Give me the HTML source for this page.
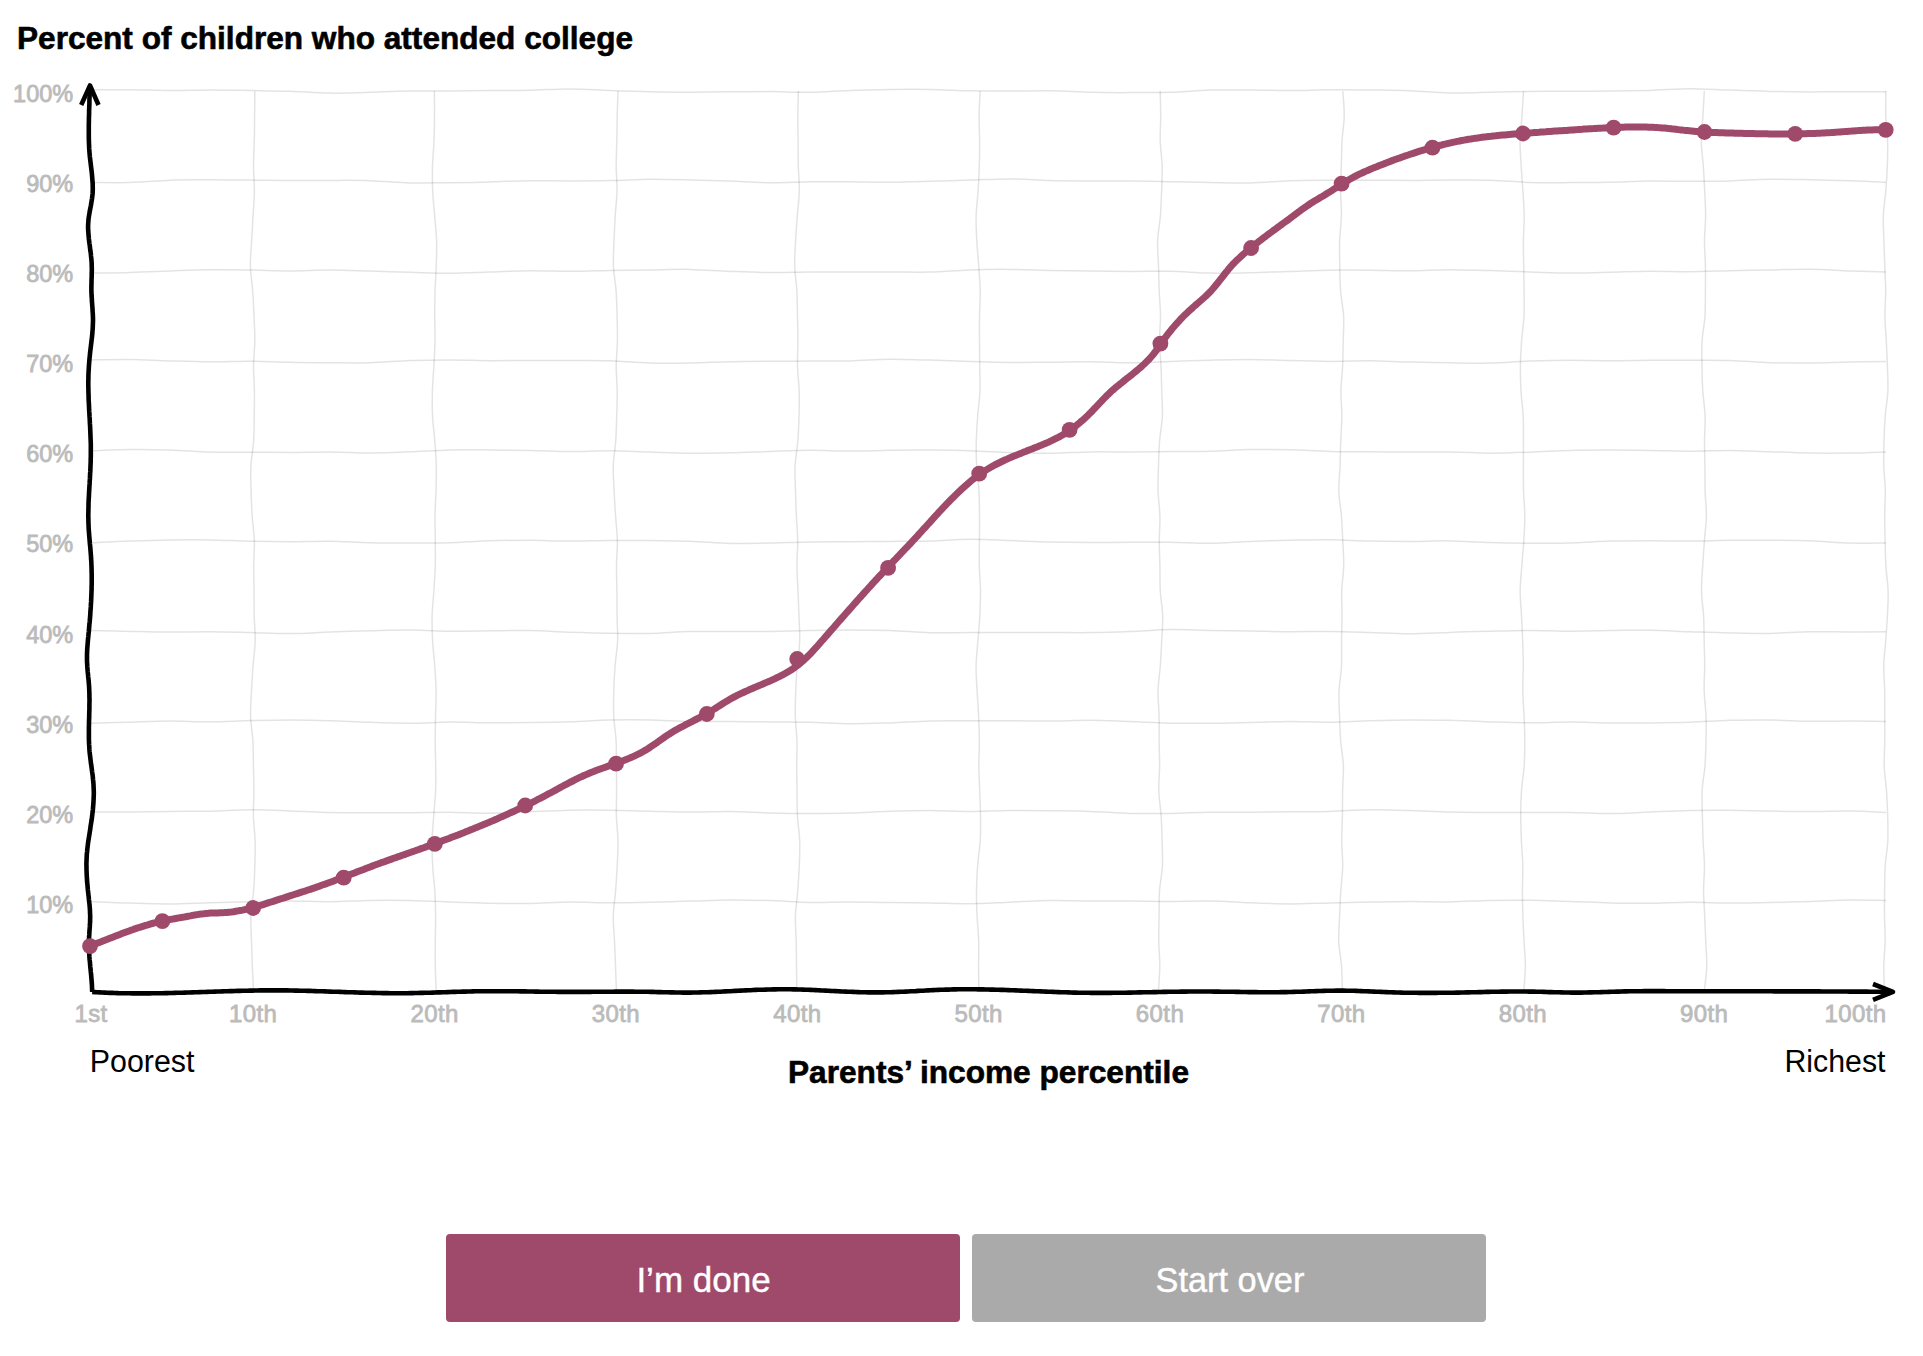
<!DOCTYPE html>
<html><head><meta charset="utf-8"><title>You draw it</title>
<style>
html,body{margin:0;padding:0;background:#fff;width:1923px;height:1356px;overflow:hidden}
svg{display:block;font-family:"Liberation Sans",sans-serif}
</style></head><body>
<svg width="1923" height="1356" viewBox="0 0 1923 1356">
<g fill="none" stroke="rgba(0,0,0,0.11)" stroke-width="1.5"><path d="M90.0,89.7 C96.7,89.7 116.7,89.6 130.0,89.7 C143.3,89.8 156.7,90.5 170.0,90.5 C183.3,90.6 196.7,90.0 210.0,90.0 C223.3,90.0 236.7,90.3 250.0,90.5 C263.3,90.7 276.7,90.8 290.0,91.2 C303.3,91.7 316.7,92.9 330.0,93.1 C343.3,93.3 356.7,92.6 370.0,92.3 C383.3,91.9 396.7,91.3 410.0,91.1 C423.3,90.8 436.7,91.0 450.0,90.9 C463.3,90.8 476.7,90.7 490.0,90.6 C503.3,90.5 516.7,90.5 530.0,90.2 C543.3,89.9 556.7,88.8 570.0,88.9 C583.3,88.9 596.7,90.0 610.0,90.5 C623.3,91.0 636.7,91.5 650.0,91.8 C663.3,92.1 676.7,92.2 690.0,92.2 C703.3,92.1 716.7,91.8 730.0,91.8 C743.3,91.7 756.7,91.6 770.0,91.6 C783.3,91.7 796.7,92.5 810.0,92.3 C823.3,92.1 836.7,90.9 850.0,90.4 C863.3,89.9 876.7,89.6 890.0,89.4 C903.3,89.3 916.7,89.2 930.0,89.4 C943.3,89.6 956.7,90.5 970.0,90.8 C983.3,91.0 996.7,91.1 1010.0,91.1 C1023.3,91.1 1036.7,90.6 1050.0,90.8 C1063.3,90.9 1076.7,92.0 1090.0,92.3 C1103.3,92.6 1116.7,92.7 1130.0,92.6 C1143.3,92.6 1156.7,92.6 1170.0,92.2 C1183.3,91.8 1196.7,90.5 1210.0,90.1 C1223.3,89.8 1236.7,89.9 1250.0,90.0 C1263.3,90.1 1276.7,90.6 1290.0,90.5 C1303.3,90.5 1316.7,89.9 1330.0,89.8 C1343.3,89.7 1356.7,89.9 1370.0,90.0 C1383.3,90.2 1396.7,90.3 1410.0,90.8 C1423.3,91.3 1436.7,92.6 1450.0,92.9 C1463.3,93.2 1476.7,92.6 1490.0,92.3 C1503.3,92.1 1516.7,91.6 1530.0,91.4 C1543.3,91.2 1556.7,91.4 1570.0,91.3 C1583.3,91.3 1596.7,91.1 1610.0,91.0 C1623.3,90.8 1636.7,90.7 1650.0,90.4 C1663.3,90.0 1676.7,88.8 1690.0,88.7 C1703.3,88.7 1716.7,89.7 1730.0,90.1 C1743.3,90.6 1756.7,91.1 1770.0,91.4 C1783.3,91.7 1796.7,91.8 1810.0,91.9 C1823.3,91.9 1837.3,91.7 1850.0,91.7 C1862.7,91.7 1880.0,91.8 1886.0,91.8"/><path d="M90.0,182.5 C96.7,182.5 116.7,183.0 130.0,182.6 C143.3,182.3 156.7,180.7 170.0,180.2 C183.3,179.8 196.7,179.9 210.0,179.8 C223.3,179.8 236.7,180.0 250.0,180.1 C263.3,180.2 276.7,180.5 290.0,180.5 C303.3,180.6 316.7,180.3 330.0,180.4 C343.3,180.4 356.7,180.2 370.0,180.7 C383.3,181.1 396.7,182.5 410.0,182.9 C423.3,183.2 436.7,182.8 450.0,182.7 C463.3,182.5 476.7,182.3 490.0,181.9 C503.3,181.6 516.7,180.8 530.0,180.7 C543.3,180.5 556.7,180.9 570.0,180.9 C583.3,180.9 596.7,180.9 610.0,180.6 C623.3,180.4 636.7,179.3 650.0,179.2 C663.3,179.1 676.7,179.6 690.0,180.0 C703.3,180.3 716.7,180.7 730.0,181.1 C743.3,181.6 756.7,182.5 770.0,182.7 C783.3,182.8 796.7,182.0 810.0,181.8 C823.3,181.7 836.7,181.7 850.0,181.7 C863.3,181.8 876.7,182.4 890.0,182.3 C903.3,182.2 916.7,181.7 930.0,181.3 C943.3,180.9 956.7,180.5 970.0,180.1 C983.3,179.7 996.7,178.9 1010.0,178.9 C1023.3,179.0 1036.7,180.2 1050.0,180.6 C1063.3,181.0 1076.7,181.0 1090.0,181.1 C1103.3,181.1 1116.7,181.0 1130.0,181.1 C1143.3,181.2 1156.7,181.5 1170.0,181.7 C1183.3,181.9 1196.7,182.3 1210.0,182.6 C1223.3,182.8 1236.7,183.3 1250.0,183.0 C1263.3,182.7 1276.7,181.2 1290.0,180.7 C1303.3,180.2 1316.7,180.3 1330.0,180.2 C1343.3,180.1 1356.7,180.2 1370.0,180.2 C1383.3,180.2 1396.7,180.4 1410.0,180.4 C1423.3,180.4 1436.7,180.0 1450.0,180.0 C1463.3,180.0 1476.7,179.8 1490.0,180.2 C1503.3,180.6 1516.7,182.1 1530.0,182.5 C1543.3,182.9 1556.7,182.7 1570.0,182.6 C1583.3,182.6 1596.7,182.4 1610.0,182.2 C1623.3,181.9 1636.7,181.2 1650.0,181.1 C1663.3,180.9 1676.7,181.4 1690.0,181.3 C1703.3,181.3 1716.7,181.3 1730.0,180.9 C1743.3,180.5 1756.7,179.4 1770.0,179.2 C1783.3,179.0 1796.7,179.4 1810.0,179.7 C1823.3,179.9 1837.3,180.3 1850.0,180.7 C1862.7,181.1 1880.0,182.0 1886.0,182.3"/><path d="M90.0,273.0 C96.7,272.9 116.7,272.8 130.0,272.4 C143.3,272.1 156.7,271.4 170.0,270.9 C183.3,270.5 196.7,270.0 210.0,269.8 C223.3,269.7 236.7,269.8 250.0,270.0 C263.3,270.2 276.7,270.9 290.0,270.9 C303.3,270.9 316.7,270.0 330.0,270.0 C343.3,270.1 356.7,270.7 370.0,271.1 C383.3,271.5 396.7,271.9 410.0,272.3 C423.3,272.6 436.7,273.2 450.0,273.2 C463.3,273.2 476.7,272.4 490.0,272.0 C503.3,271.6 516.7,270.9 530.0,270.8 C543.3,270.6 556.7,271.4 570.0,271.3 C583.3,271.2 596.7,270.7 610.0,270.4 C623.3,270.2 636.7,270.1 650.0,269.9 C663.3,269.7 676.7,269.2 690.0,269.4 C703.3,269.7 716.7,270.9 730.0,271.4 C743.3,271.9 756.7,272.5 770.0,272.5 C783.3,272.6 796.7,272.0 810.0,271.9 C823.3,271.9 836.7,272.1 850.0,272.1 C863.3,272.1 876.7,272.0 890.0,272.0 C903.3,272.0 916.7,272.4 930.0,272.1 C943.3,271.7 956.7,270.3 970.0,269.9 C983.3,269.4 996.7,269.3 1010.0,269.4 C1023.3,269.4 1036.7,270.1 1050.0,270.4 C1063.3,270.6 1076.7,270.9 1090.0,271.1 C1103.3,271.2 1116.7,271.4 1130.0,271.4 C1143.3,271.5 1156.7,271.0 1170.0,271.2 C1183.3,271.5 1196.7,272.8 1210.0,273.1 C1223.3,273.3 1236.7,273.0 1250.0,272.7 C1263.3,272.4 1276.7,271.8 1290.0,271.4 C1303.3,271.0 1316.7,270.4 1330.0,270.2 C1343.3,270.0 1356.7,270.1 1370.0,270.2 C1383.3,270.3 1396.7,270.9 1410.0,270.8 C1423.3,270.7 1436.7,269.7 1450.0,269.7 C1463.3,269.7 1476.7,270.3 1490.0,270.6 C1503.3,271.0 1516.7,271.5 1530.0,271.9 C1543.3,272.3 1556.7,273.1 1570.0,273.1 C1583.3,273.2 1596.7,272.6 1610.0,272.2 C1623.3,271.9 1636.7,271.2 1650.0,271.2 C1663.3,271.1 1676.7,271.8 1690.0,271.7 C1703.3,271.6 1716.7,271.0 1730.0,270.7 C1743.3,270.4 1756.7,270.2 1770.0,269.9 C1783.3,269.7 1796.7,269.0 1810.0,269.2 C1823.3,269.3 1837.3,270.5 1850.0,271.0 C1862.7,271.4 1880.0,271.8 1886.0,272.0"/><path d="M90.0,359.9 C96.7,359.8 116.7,359.3 130.0,359.4 C143.3,359.6 156.7,360.5 170.0,360.9 C183.3,361.3 196.7,361.8 210.0,361.8 C223.3,361.9 236.7,361.1 250.0,361.2 C263.3,361.3 276.7,362.1 290.0,362.3 C303.3,362.6 316.7,362.7 330.0,362.8 C343.3,362.8 356.7,363.1 370.0,362.7 C383.3,362.3 396.7,361.1 410.0,360.6 C423.3,360.1 436.7,359.9 450.0,359.9 C463.3,359.9 476.7,360.6 490.0,360.7 C503.3,360.8 516.7,360.4 530.0,360.4 C543.3,360.4 556.7,360.5 570.0,360.6 C583.3,360.6 596.7,360.4 610.0,360.8 C623.3,361.3 636.7,362.7 650.0,363.0 C663.3,363.4 676.7,363.2 690.0,363.0 C703.3,362.8 716.7,362.1 730.0,361.8 C743.3,361.5 756.7,361.4 770.0,361.3 C783.3,361.2 796.7,361.1 810.0,361.1 C823.3,361.0 836.7,361.2 850.0,360.9 C863.3,360.6 876.7,359.4 890.0,359.2 C903.3,359.1 916.7,359.8 930.0,360.1 C943.3,360.5 956.7,361.2 970.0,361.6 C983.3,362.0 996.7,362.4 1010.0,362.5 C1023.3,362.6 1036.7,362.3 1050.0,362.2 C1063.3,362.1 1076.7,361.7 1090.0,361.8 C1103.3,361.9 1116.7,362.9 1130.0,362.8 C1143.3,362.8 1156.7,361.9 1170.0,361.4 C1183.3,361.0 1196.7,360.5 1210.0,360.2 C1223.3,359.8 1236.7,359.3 1250.0,359.4 C1263.3,359.5 1276.7,360.3 1290.0,360.6 C1303.3,361.0 1316.7,361.4 1330.0,361.4 C1343.3,361.4 1356.7,360.7 1370.0,360.8 C1383.3,361.0 1396.7,361.8 1410.0,362.1 C1423.3,362.4 1436.7,362.7 1450.0,362.8 C1463.3,363.0 1476.7,363.3 1490.0,363.1 C1503.3,362.8 1516.7,361.5 1530.0,361.0 C1543.3,360.6 1556.7,360.3 1570.0,360.3 C1583.3,360.3 1596.7,360.8 1610.0,360.8 C1623.3,360.8 1636.7,360.4 1650.0,360.3 C1663.3,360.2 1676.7,360.2 1690.0,360.2 C1703.3,360.2 1716.7,360.0 1730.0,360.4 C1743.3,360.8 1756.7,362.3 1770.0,362.7 C1783.3,363.1 1796.7,363.0 1810.0,362.9 C1823.3,362.8 1837.3,362.2 1850.0,362.0 C1862.7,361.8 1880.0,361.7 1886.0,361.6"/><path d="M90.0,450.9 C96.7,450.7 116.7,449.7 130.0,449.5 C143.3,449.4 156.7,449.5 170.0,449.9 C183.3,450.3 196.7,451.6 210.0,452.0 C223.3,452.3 236.7,452.1 250.0,452.2 C263.3,452.3 276.7,452.4 290.0,452.4 C303.3,452.3 316.7,451.9 330.0,451.9 C343.3,452.0 356.7,452.9 370.0,452.9 C383.3,452.9 396.7,452.3 410.0,451.8 C423.3,451.3 436.7,450.3 450.0,450.0 C463.3,449.6 476.7,449.8 490.0,449.9 C503.3,450.0 516.7,450.2 530.0,450.5 C543.3,450.7 556.7,451.5 570.0,451.6 C583.3,451.6 596.7,450.8 610.0,450.8 C623.3,450.9 636.7,451.7 650.0,452.1 C663.3,452.5 676.7,453.1 690.0,453.2 C703.3,453.3 716.7,453.1 730.0,452.8 C743.3,452.6 756.7,451.9 770.0,451.5 C783.3,451.0 796.7,450.3 810.0,450.2 C823.3,450.2 836.7,451.1 850.0,451.1 C863.3,451.1 876.7,450.5 890.0,450.3 C903.3,450.1 916.7,450.0 930.0,450.1 C943.3,450.2 956.7,450.3 970.0,450.7 C983.3,451.1 996.7,452.0 1010.0,452.5 C1023.3,452.9 1036.7,453.4 1050.0,453.3 C1063.3,453.2 1076.7,452.1 1090.0,451.9 C1103.3,451.6 1116.7,452.1 1130.0,452.0 C1143.3,452.0 1156.7,451.8 1170.0,451.6 C1183.3,451.5 1196.7,451.6 1210.0,451.2 C1223.3,450.9 1236.7,449.8 1250.0,449.6 C1263.3,449.3 1276.7,449.3 1290.0,449.7 C1303.3,450.0 1316.7,451.2 1330.0,451.5 C1343.3,451.9 1356.7,451.7 1370.0,451.8 C1383.3,451.9 1396.7,452.1 1410.0,452.1 C1423.3,452.2 1436.7,451.8 1450.0,452.0 C1463.3,452.1 1476.7,453.1 1490.0,453.2 C1503.3,453.2 1516.7,452.7 1530.0,452.2 C1543.3,451.8 1556.7,450.7 1570.0,450.4 C1583.3,450.0 1596.7,450.0 1610.0,450.0 C1623.3,450.0 1636.7,450.2 1650.0,450.4 C1663.3,450.5 1676.7,451.2 1690.0,451.2 C1703.3,451.2 1716.7,450.3 1730.0,450.4 C1743.3,450.5 1756.7,451.3 1770.0,451.7 C1783.3,452.2 1796.7,452.8 1810.0,453.1 C1823.3,453.3 1837.3,453.2 1850.0,453.1 C1862.7,452.9 1880.0,452.1 1886.0,451.9"/><path d="M90.0,542.8 C96.7,542.5 116.7,541.4 130.0,541.0 C143.3,540.5 156.7,540.1 170.0,539.9 C183.3,539.7 196.7,539.6 210.0,539.9 C223.3,540.1 236.7,540.9 250.0,541.2 C263.3,541.6 276.7,541.8 290.0,541.8 C303.3,541.8 316.7,541.1 330.0,541.3 C343.3,541.5 356.7,542.5 370.0,542.8 C383.3,543.1 396.7,543.1 410.0,543.1 C423.3,543.1 436.7,543.1 450.0,542.7 C463.3,542.3 476.7,541.0 490.0,540.7 C503.3,540.3 516.7,540.3 530.0,540.3 C543.3,540.4 556.7,541.0 570.0,541.0 C583.3,541.0 596.7,540.4 610.0,540.4 C623.3,540.3 636.7,540.5 650.0,540.6 C663.3,540.8 676.7,540.8 690.0,541.3 C703.3,541.7 716.7,543.1 730.0,543.4 C743.3,543.7 756.7,543.2 770.0,543.0 C783.3,542.7 796.7,542.1 810.0,541.9 C823.3,541.7 836.7,541.8 850.0,541.7 C863.3,541.6 876.7,541.5 890.0,541.4 C903.3,541.3 916.7,541.3 930.0,540.9 C943.3,540.6 956.7,539.3 970.0,539.3 C983.3,539.2 996.7,540.1 1010.0,540.6 C1023.3,541.0 1036.7,541.6 1050.0,541.9 C1063.3,542.2 1076.7,542.4 1090.0,542.5 C1103.3,542.5 1116.7,542.3 1130.0,542.2 C1143.3,542.2 1156.7,542.1 1170.0,542.2 C1183.3,542.4 1196.7,543.3 1210.0,543.2 C1223.3,543.0 1236.7,541.9 1250.0,541.4 C1263.3,540.9 1276.7,540.5 1290.0,540.2 C1303.3,540.0 1316.7,539.7 1330.0,539.8 C1343.3,540.0 1356.7,540.7 1370.0,541.0 C1383.3,541.2 1396.7,541.4 1410.0,541.4 C1423.3,541.4 1436.7,540.7 1450.0,540.9 C1463.3,541.1 1476.7,542.2 1490.0,542.5 C1503.3,542.9 1516.7,543.1 1530.0,543.2 C1543.3,543.2 1556.7,543.4 1570.0,543.0 C1583.3,542.7 1596.7,541.5 1610.0,541.1 C1623.3,540.7 1636.7,540.7 1650.0,540.7 C1663.3,540.7 1676.7,541.2 1690.0,541.1 C1703.3,541.1 1716.7,540.4 1730.0,540.3 C1743.3,540.1 1756.7,540.2 1770.0,540.3 C1783.3,540.3 1796.7,540.3 1810.0,540.8 C1823.3,541.3 1837.3,542.7 1850.0,543.1 C1862.7,543.4 1880.0,542.9 1886.0,542.9"/><path d="M90.0,630.5 C96.7,630.7 116.7,631.1 130.0,631.4 C143.3,631.7 156.7,632.1 170.0,632.1 C183.3,632.2 196.7,631.7 210.0,631.8 C223.3,631.9 236.7,632.3 250.0,632.6 C263.3,632.9 276.7,633.7 290.0,633.6 C303.3,633.5 316.7,632.4 330.0,631.9 C343.3,631.5 356.7,631.1 370.0,630.8 C383.3,630.5 396.7,630.0 410.0,630.1 C423.3,630.1 436.7,631.0 450.0,631.2 C463.3,631.3 476.7,630.9 490.0,630.8 C503.3,630.7 516.7,630.4 530.0,630.6 C543.3,630.8 556.7,631.8 570.0,632.2 C583.3,632.6 596.7,633.0 610.0,633.2 C623.3,633.4 636.7,633.6 650.0,633.4 C663.3,633.1 676.7,631.8 690.0,631.5 C703.3,631.2 716.7,631.6 730.0,631.6 C743.3,631.6 756.7,631.6 770.0,631.4 C783.3,631.2 796.7,630.7 810.0,630.5 C823.3,630.2 836.7,629.9 850.0,629.9 C863.3,629.9 876.7,630.0 890.0,630.5 C903.3,631.0 916.7,632.4 930.0,632.8 C943.3,633.1 956.7,632.5 970.0,632.5 C983.3,632.4 996.7,632.4 1010.0,632.4 C1023.3,632.4 1036.7,632.4 1050.0,632.5 C1063.3,632.5 1076.7,632.8 1090.0,632.6 C1103.3,632.5 1116.7,632.1 1130.0,631.6 C1143.3,631.1 1156.7,629.8 1170.0,629.6 C1183.3,629.4 1196.7,630.2 1210.0,630.4 C1223.3,630.6 1236.7,630.8 1250.0,631.0 C1263.3,631.2 1276.7,631.7 1290.0,631.7 C1303.3,631.8 1316.7,631.3 1330.0,631.5 C1343.3,631.6 1356.7,632.1 1370.0,632.5 C1383.3,632.9 1396.7,633.8 1410.0,633.7 C1423.3,633.7 1436.7,632.8 1450.0,632.4 C1463.3,631.9 1476.7,631.6 1490.0,631.3 C1503.3,630.9 1516.7,630.4 1530.0,630.4 C1543.3,630.4 1556.7,631.2 1570.0,631.2 C1583.3,631.2 1596.7,630.7 1610.0,630.5 C1623.3,630.4 1636.7,630.0 1650.0,630.2 C1663.3,630.4 1676.7,631.3 1690.0,631.8 C1703.3,632.2 1716.7,632.7 1730.0,632.9 C1743.3,633.2 1756.7,633.6 1770.0,633.4 C1783.3,633.2 1796.7,632.0 1810.0,631.8 C1823.3,631.5 1837.3,632.0 1850.0,632.0 C1862.7,632.0 1880.0,631.8 1886.0,631.8"/><path d="M90.0,723.2 C96.7,723.0 116.7,722.5 130.0,722.2 C143.3,721.8 156.7,721.2 170.0,721.1 C183.3,721.1 196.7,721.9 210.0,721.8 C223.3,721.8 236.7,720.9 250.0,720.6 C263.3,720.3 276.7,720.0 290.0,720.0 C303.3,720.0 316.7,720.3 330.0,720.7 C343.3,721.1 356.7,721.9 370.0,722.3 C383.3,722.8 396.7,723.2 410.0,723.2 C423.3,723.2 436.7,722.2 450.0,722.1 C463.3,722.0 476.7,722.7 490.0,722.8 C503.3,722.8 516.7,722.7 530.0,722.6 C543.3,722.4 556.7,722.2 570.0,721.8 C583.3,721.4 596.7,720.3 610.0,720.0 C623.3,719.7 636.7,719.7 650.0,719.9 C663.3,720.2 676.7,721.3 690.0,721.5 C703.3,721.8 716.7,721.4 730.0,721.5 C743.3,721.5 756.7,721.8 770.0,722.0 C783.3,722.1 796.7,722.0 810.0,722.3 C823.3,722.6 836.7,723.6 850.0,723.7 C863.3,723.8 876.7,723.3 890.0,722.9 C903.3,722.4 916.7,721.4 930.0,721.0 C943.3,720.7 956.7,720.9 970.0,720.8 C983.3,720.8 996.7,720.7 1010.0,720.8 C1023.3,720.8 1036.7,721.2 1050.0,721.1 C1063.3,721.0 1076.7,720.1 1090.0,720.2 C1103.3,720.3 1116.7,721.1 1130.0,721.6 C1143.3,722.1 1156.7,722.9 1170.0,723.2 C1183.3,723.5 1196.7,723.3 1210.0,723.2 C1223.3,723.1 1236.7,722.7 1250.0,722.4 C1263.3,722.2 1276.7,721.6 1290.0,721.5 C1303.3,721.5 1316.7,722.4 1330.0,722.2 C1343.3,722.1 1356.7,721.1 1370.0,720.8 C1383.3,720.4 1396.7,720.0 1410.0,719.9 C1423.3,719.9 1436.7,720.0 1450.0,720.3 C1463.3,720.7 1476.7,721.5 1490.0,721.9 C1503.3,722.3 1516.7,722.8 1530.0,722.8 C1543.3,722.8 1556.7,722.0 1570.0,722.0 C1583.3,722.0 1596.7,722.8 1610.0,722.9 C1623.3,723.1 1636.7,723.0 1650.0,722.9 C1663.3,722.8 1676.7,722.7 1690.0,722.3 C1703.3,721.8 1716.7,720.7 1730.0,720.3 C1743.3,720.0 1756.7,719.8 1770.0,720.0 C1783.3,720.1 1796.7,721.1 1810.0,721.3 C1823.3,721.5 1837.3,721.1 1850.0,721.1 C1862.7,721.1 1880.0,721.4 1886.0,721.5"/><path d="M90.0,811.9 C96.7,811.9 116.7,811.9 130.0,811.9 C143.3,811.8 156.7,811.5 170.0,811.4 C183.3,811.3 196.7,811.4 210.0,811.2 C223.3,810.9 236.7,809.8 250.0,809.7 C263.3,809.7 276.7,810.4 290.0,810.9 C303.3,811.3 316.7,812.2 330.0,812.6 C343.3,812.9 356.7,812.8 370.0,812.8 C383.3,812.8 396.7,812.8 410.0,812.7 C423.3,812.6 436.7,812.3 450.0,812.3 C463.3,812.4 476.7,813.4 490.0,813.2 C503.3,813.1 516.7,812.1 530.0,811.6 C543.3,811.1 556.7,810.5 570.0,810.2 C583.3,810.0 596.7,810.1 610.0,810.2 C623.3,810.4 636.7,810.9 650.0,811.2 C663.3,811.5 676.7,812.0 690.0,812.0 C703.3,812.1 716.7,811.2 730.0,811.4 C743.3,811.5 756.7,812.6 770.0,812.9 C783.3,813.3 796.7,813.5 810.0,813.5 C823.3,813.5 836.7,813.5 850.0,813.1 C863.3,812.7 876.7,811.7 890.0,811.3 C903.3,810.9 916.7,810.6 930.0,810.6 C943.3,810.7 956.7,811.5 970.0,811.5 C983.3,811.4 996.7,810.7 1010.0,810.6 C1023.3,810.5 1036.7,810.6 1050.0,810.7 C1063.3,810.9 1076.7,810.9 1090.0,811.4 C1103.3,811.8 1116.7,813.1 1130.0,813.4 C1143.3,813.7 1156.7,813.6 1170.0,813.4 C1183.3,813.2 1196.7,812.4 1210.0,812.2 C1223.3,812.0 1236.7,812.3 1250.0,812.3 C1263.3,812.2 1276.7,812.0 1290.0,811.8 C1303.3,811.7 1316.7,811.7 1330.0,811.4 C1343.3,811.0 1356.7,809.8 1370.0,809.7 C1383.3,809.5 1396.7,810.1 1410.0,810.6 C1423.3,811.0 1436.7,811.8 1450.0,812.1 C1463.3,812.4 1476.7,812.4 1490.0,812.5 C1503.3,812.5 1516.7,812.6 1530.0,812.6 C1543.3,812.6 1556.7,812.3 1570.0,812.5 C1583.3,812.6 1596.7,813.7 1610.0,813.6 C1623.3,813.5 1636.7,812.5 1650.0,812.0 C1663.3,811.5 1676.7,810.9 1690.0,810.6 C1703.3,810.3 1716.7,810.2 1730.0,810.3 C1743.3,810.4 1756.7,810.8 1770.0,811.0 C1783.3,811.3 1796.7,811.6 1810.0,811.6 C1823.3,811.6 1837.3,810.8 1850.0,811.0 C1862.7,811.1 1880.0,812.2 1886.0,812.5"/><path d="M90.0,901.4 C96.7,901.7 116.7,902.7 130.0,903.1 C143.3,903.5 156.7,904.0 170.0,903.9 C183.3,903.9 196.7,903.1 210.0,902.7 C223.3,902.4 236.7,902.0 250.0,901.7 C263.3,901.4 276.7,900.9 290.0,901.0 C303.3,901.0 316.7,901.8 330.0,901.7 C343.3,901.6 356.7,900.6 370.0,900.4 C383.3,900.3 396.7,900.3 410.0,900.5 C423.3,900.8 436.7,901.4 450.0,901.9 C463.3,902.3 476.7,903.0 490.0,903.3 C503.3,903.5 516.7,903.6 530.0,903.4 C543.3,903.2 556.7,902.2 570.0,902.1 C583.3,902.0 596.7,902.8 610.0,902.8 C623.3,902.8 636.7,902.4 650.0,902.2 C663.3,901.9 676.7,901.5 690.0,901.1 C703.3,900.7 716.7,900.0 730.0,899.9 C743.3,899.8 756.7,900.2 770.0,900.6 C783.3,901.0 796.7,902.2 810.0,902.4 C823.3,902.6 836.7,902.0 850.0,902.1 C863.3,902.1 876.7,902.4 890.0,902.6 C903.3,902.7 916.7,902.7 930.0,902.9 C943.3,903.1 956.7,903.8 970.0,903.7 C983.3,903.6 996.7,902.7 1010.0,902.2 C1023.3,901.6 1036.7,900.7 1050.0,900.5 C1063.3,900.2 1076.7,900.8 1090.0,900.9 C1103.3,901.0 1116.7,901.0 1130.0,901.0 C1143.3,901.1 1156.7,901.4 1170.0,901.4 C1183.3,901.4 1196.7,900.7 1210.0,901.0 C1223.3,901.2 1236.7,902.3 1250.0,902.8 C1263.3,903.3 1276.7,903.8 1290.0,903.9 C1303.3,903.9 1316.7,903.3 1330.0,903.0 C1343.3,902.7 1356.7,902.3 1370.0,902.1 C1383.3,901.8 1396.7,901.4 1410.0,901.4 C1423.3,901.3 1436.7,902.1 1450.0,901.9 C1463.3,901.8 1476.7,900.7 1490.0,900.4 C1503.3,900.1 1516.7,900.1 1530.0,900.2 C1543.3,900.4 1556.7,901.0 1570.0,901.4 C1583.3,901.8 1596.7,902.6 1610.0,902.9 C1623.3,903.2 1636.7,903.4 1650.0,903.3 C1663.3,903.2 1676.7,902.2 1690.0,902.2 C1703.3,902.2 1716.7,903.0 1730.0,903.1 C1743.3,903.2 1756.7,902.9 1770.0,902.6 C1783.3,902.3 1796.7,901.9 1810.0,901.5 C1823.3,901.1 1837.3,900.2 1850.0,900.0 C1862.7,899.8 1880.0,900.4 1886.0,900.4"/><path d="M254.8,91.0 C254.8,95.2 254.7,107.7 254.6,116.0 C254.5,124.3 254.5,132.7 254.3,141.0 C254.1,149.3 253.4,157.7 253.5,166.0 C253.5,174.3 254.5,182.7 254.4,191.0 C254.4,199.3 253.5,207.7 253.0,216.0 C252.6,224.3 252.1,232.7 251.6,241.0 C251.2,249.3 250.2,257.7 250.4,266.0 C250.6,274.3 252.1,282.7 252.7,291.0 C253.3,299.3 253.7,307.7 254.0,316.0 C254.4,324.3 254.9,332.7 254.8,341.0 C254.7,349.3 253.6,357.7 253.5,366.0 C253.5,374.3 254.3,382.7 254.4,391.0 C254.5,399.3 254.4,407.7 254.2,416.0 C254.1,424.3 254.2,432.7 253.6,441.0 C253.1,449.3 251.3,457.7 250.9,466.0 C250.5,474.3 250.8,482.7 251.1,491.0 C251.3,499.3 251.6,507.7 252.2,516.0 C252.7,524.3 254.1,532.7 254.4,541.0 C254.6,549.3 253.8,557.7 253.7,566.0 C253.7,574.3 254.0,582.7 254.0,591.0 C254.1,599.3 254.0,607.7 254.2,616.0 C254.4,624.3 255.4,632.7 255.2,641.0 C255.0,649.3 253.6,657.7 253.0,666.0 C252.4,674.3 251.9,682.7 251.5,691.0 C251.0,699.3 250.4,707.7 250.6,716.0 C250.8,724.3 252.4,732.7 252.9,741.0 C253.4,749.3 253.3,757.7 253.4,766.0 C253.6,774.3 253.9,782.7 253.9,791.0 C253.9,799.3 253.2,807.7 253.4,816.0 C253.6,824.3 254.9,832.7 255.1,841.0 C255.4,849.3 255.1,857.7 254.8,866.0 C254.6,874.3 254.3,882.7 253.6,891.0 C252.9,899.3 251.2,907.7 250.9,916.0 C250.5,924.3 251.2,932.7 251.5,941.0 C251.7,949.3 252.0,957.5 252.3,966.0 C252.7,974.5 253.4,987.7 253.6,992.0"/><path d="M434.4,91.0 C434.4,95.2 434.6,107.7 434.5,116.0 C434.5,124.3 434.4,132.7 434.0,141.0 C433.7,149.3 432.8,157.7 432.5,166.0 C432.3,174.3 432.3,182.7 432.7,191.0 C433.0,199.3 434.0,207.7 434.7,216.0 C435.3,224.3 436.4,232.7 436.6,241.0 C436.9,249.3 436.5,257.7 436.2,266.0 C436.0,274.3 435.3,282.7 435.1,291.0 C434.8,299.3 434.7,307.7 434.7,316.0 C434.7,324.3 435.2,332.7 435.0,341.0 C434.9,349.3 434.3,357.7 433.9,366.0 C433.4,374.3 432.6,382.7 432.4,391.0 C432.2,399.3 432.1,407.7 432.5,416.0 C432.9,424.3 434.2,432.7 434.8,441.0 C435.5,449.3 436.1,457.7 436.3,466.0 C436.5,474.3 436.2,482.7 436.0,491.0 C435.8,499.3 435.1,507.7 435.0,516.0 C434.9,524.3 435.3,532.7 435.3,541.0 C435.3,549.3 435.5,557.7 435.3,566.0 C435.0,574.3 434.4,582.7 433.9,591.0 C433.3,599.3 432.3,607.7 432.1,616.0 C431.9,624.3 432.2,632.7 432.6,641.0 C433.1,649.3 434.2,657.7 434.7,666.0 C435.3,674.3 436.0,682.7 436.1,691.0 C436.2,699.3 435.7,707.7 435.5,716.0 C435.4,724.3 435.2,732.7 435.2,741.0 C435.2,749.3 435.6,757.7 435.7,766.0 C435.7,774.3 435.9,782.7 435.6,791.0 C435.3,799.3 434.3,807.7 433.7,816.0 C433.1,824.3 432.3,832.7 432.1,841.0 C431.9,849.3 432.2,857.7 432.7,866.0 C433.1,874.3 434.3,882.7 434.8,891.0 C435.3,899.3 435.6,907.7 435.6,916.0 C435.7,924.3 435.3,932.7 435.3,941.0 C435.2,949.3 435.1,957.5 435.3,966.0 C435.4,974.5 436.1,987.7 436.2,992.0"/><path d="M618.0,91.0 C617.8,95.2 617.4,107.7 617.2,116.0 C617.0,124.3 617.0,132.7 616.8,141.0 C616.6,149.3 616.2,157.7 616.2,166.0 C616.2,174.3 617.2,182.7 617.0,191.0 C616.8,199.3 615.7,207.7 615.2,216.0 C614.7,224.3 614.3,232.7 614.0,241.0 C613.7,249.3 613.1,257.7 613.4,266.0 C613.8,274.3 615.5,282.7 616.1,291.0 C616.7,299.3 616.9,307.7 617.1,316.0 C617.3,324.3 617.6,332.7 617.4,341.0 C617.3,349.3 616.3,357.7 616.2,366.0 C616.2,374.3 617.1,382.7 617.2,391.0 C617.3,399.3 617.0,407.7 616.7,416.0 C616.5,424.3 616.3,432.7 615.7,441.0 C615.1,449.3 613.5,457.7 613.3,466.0 C613.0,474.3 613.7,482.7 614.1,491.0 C614.5,499.3 615.0,507.7 615.6,516.0 C616.1,524.3 617.2,532.7 617.4,541.0 C617.5,549.3 616.5,557.7 616.5,566.0 C616.4,574.3 616.8,582.7 616.9,591.0 C617.0,599.3 616.9,607.7 617.1,616.0 C617.2,624.3 617.9,632.7 617.6,641.0 C617.2,649.3 615.7,657.7 615.1,666.0 C614.4,674.3 614.0,682.7 613.8,691.0 C613.6,699.3 613.3,707.7 613.7,716.0 C614.1,724.3 615.7,732.7 616.1,741.0 C616.6,749.3 616.3,757.7 616.4,766.0 C616.5,774.3 616.6,782.7 616.6,791.0 C616.6,799.3 616.2,807.7 616.4,816.0 C616.6,824.3 617.9,832.7 618.0,841.0 C618.2,849.3 617.6,857.7 617.2,866.0 C616.8,874.3 616.2,882.7 615.6,891.0 C614.9,899.3 613.5,907.7 613.3,916.0 C613.1,924.3 614.1,932.7 614.5,941.0 C614.9,949.3 615.2,957.5 615.5,966.0 C615.8,974.5 616.4,987.7 616.5,992.0"/><path d="M798.4,91.0 C798.3,95.2 797.9,107.7 797.8,116.0 C797.8,124.3 798.0,132.7 798.1,141.0 C798.2,149.3 798.1,157.7 798.3,166.0 C798.5,174.3 799.5,182.7 799.3,191.0 C799.2,199.3 797.9,207.7 797.3,216.0 C796.7,224.3 796.0,232.7 795.6,241.0 C795.2,249.3 794.5,257.7 794.7,266.0 C794.9,274.3 796.4,282.7 796.9,291.0 C797.3,299.3 797.3,307.7 797.5,316.0 C797.7,324.3 797.9,332.7 797.9,341.0 C797.9,349.3 797.3,357.7 797.5,366.0 C797.7,374.3 798.9,382.7 799.2,391.0 C799.4,399.3 799.3,407.7 799.0,416.0 C798.8,424.3 798.5,432.7 797.8,441.0 C797.2,449.3 795.5,457.7 795.1,466.0 C794.7,474.3 795.3,482.7 795.5,491.0 C795.7,499.3 796.0,507.7 796.4,516.0 C796.8,524.3 797.6,532.7 797.7,541.0 C797.8,549.3 796.9,557.7 796.9,566.0 C797.0,574.3 797.7,582.7 798.0,591.0 C798.3,599.3 798.7,607.7 799.0,616.0 C799.2,624.3 800.0,632.7 799.7,641.0 C799.4,649.3 797.9,657.7 797.2,666.0 C796.6,674.3 796.1,682.7 795.7,691.0 C795.4,699.3 795.1,707.7 795.3,716.0 C795.5,724.3 796.7,732.7 797.0,741.0 C797.2,749.3 796.7,757.7 796.7,766.0 C796.8,774.3 796.9,782.7 797.0,791.0 C797.1,799.3 797.0,807.7 797.5,816.0 C797.9,824.3 799.4,832.7 799.7,841.0 C800.0,849.3 799.6,857.7 799.3,866.0 C798.9,874.3 798.3,882.7 797.7,891.0 C797.1,899.3 795.7,907.7 795.4,916.0 C795.2,924.3 796.0,932.7 796.2,941.0 C796.3,949.3 796.4,957.5 796.5,966.0 C796.6,974.5 796.8,987.7 796.8,992.0"/><path d="M980.2,91.0 C980.0,95.2 979.1,107.7 979.1,116.0 C979.0,124.3 979.5,132.7 979.6,141.0 C979.6,149.3 979.6,157.7 979.3,166.0 C979.1,174.3 978.7,182.7 978.1,191.0 C977.6,199.3 976.3,207.7 976.1,216.0 C975.9,224.3 976.4,232.7 976.8,241.0 C977.3,249.3 978.1,257.7 978.7,266.0 C979.3,274.3 980.1,282.7 980.2,291.0 C980.4,299.3 979.6,307.7 979.5,316.0 C979.4,324.3 979.4,332.7 979.5,341.0 C979.5,349.3 979.7,357.7 979.7,366.0 C979.8,374.3 980.2,382.7 979.9,391.0 C979.6,399.3 978.3,407.7 977.7,416.0 C977.1,424.3 976.5,432.7 976.3,441.0 C976.1,449.3 976.2,457.7 976.7,466.0 C977.1,474.3 978.5,482.7 979.0,491.0 C979.4,499.3 979.5,507.7 979.5,516.0 C979.6,524.3 979.5,532.7 979.4,541.0 C979.4,549.3 979.1,557.7 979.3,566.0 C979.5,574.3 980.4,582.7 980.5,591.0 C980.5,599.3 980.2,607.7 979.8,616.0 C979.4,624.3 978.5,632.7 977.9,641.0 C977.3,649.3 976.2,657.7 976.1,666.0 C975.9,674.3 976.7,682.7 977.1,691.0 C977.6,699.3 978.2,707.7 978.6,716.0 C979.0,724.3 979.3,732.7 979.4,741.0 C979.4,749.3 978.8,757.7 978.8,766.0 C978.9,774.3 979.5,782.7 979.7,791.0 C980.0,799.3 980.5,807.7 980.5,816.0 C980.6,824.3 980.7,832.7 980.2,841.0 C979.7,849.3 978.2,857.7 977.6,866.0 C977.0,874.3 976.6,882.7 976.5,891.0 C976.4,899.3 976.7,907.7 977.1,916.0 C977.5,924.3 978.5,932.7 978.7,941.0 C979.0,949.3 978.6,957.5 978.6,966.0 C978.6,974.5 978.8,987.7 978.9,992.0"/><path d="M1160.2,91.0 C1160.3,95.2 1160.7,107.7 1160.7,116.0 C1160.7,124.3 1160.0,132.7 1160.2,141.0 C1160.5,149.3 1161.9,157.7 1162.2,166.0 C1162.4,174.3 1161.9,182.7 1161.6,191.0 C1161.3,199.3 1161.0,207.7 1160.4,216.0 C1159.7,224.3 1157.9,232.7 1157.6,241.0 C1157.3,249.3 1158.2,257.7 1158.5,266.0 C1158.7,274.3 1158.9,282.7 1159.2,291.0 C1159.5,299.3 1160.5,307.7 1160.5,316.0 C1160.6,324.3 1159.4,332.7 1159.5,341.0 C1159.6,349.3 1160.6,357.7 1161.0,366.0 C1161.4,374.3 1161.5,382.7 1161.7,391.0 C1162.0,399.3 1162.8,407.7 1162.4,416.0 C1162.1,424.3 1160.2,432.7 1159.6,441.0 C1158.9,449.3 1158.7,457.7 1158.5,466.0 C1158.2,474.3 1157.8,482.7 1158.0,491.0 C1158.3,499.3 1159.7,507.7 1159.9,516.0 C1160.1,524.3 1159.3,532.7 1159.3,541.0 C1159.3,549.3 1159.7,557.7 1159.9,566.0 C1160.1,574.3 1159.8,582.7 1160.3,591.0 C1160.8,599.3 1162.5,607.7 1162.7,616.0 C1162.9,624.3 1162.1,632.7 1161.7,641.0 C1161.3,649.3 1160.9,657.7 1160.3,666.0 C1159.7,674.3 1158.2,682.7 1158.0,691.0 C1157.8,699.3 1158.9,707.7 1159.1,716.0 C1159.3,724.3 1159.1,732.7 1159.1,741.0 C1159.2,749.3 1159.6,757.7 1159.6,766.0 C1159.5,774.3 1158.6,782.7 1158.8,791.0 C1159.1,799.3 1160.6,807.7 1161.1,816.0 C1161.7,824.3 1161.9,832.7 1162.1,841.0 C1162.3,849.3 1162.8,857.7 1162.4,866.0 C1162.0,874.3 1160.1,882.7 1159.5,891.0 C1159.0,899.3 1159.2,907.7 1159.1,916.0 C1158.9,924.3 1158.6,932.7 1158.8,941.0 C1158.9,949.3 1159.8,957.5 1159.8,966.0 C1159.7,974.5 1158.6,987.7 1158.4,992.0"/><path d="M1342.8,91.0 C1343.1,95.2 1344.4,107.7 1344.2,116.0 C1344.1,124.3 1342.4,132.7 1342.0,141.0 C1341.5,149.3 1341.6,157.7 1341.3,166.0 C1341.1,174.3 1340.6,182.7 1340.6,191.0 C1340.6,199.3 1341.6,207.7 1341.4,216.0 C1341.2,224.3 1339.9,232.7 1339.6,241.0 C1339.3,249.3 1339.6,257.7 1339.8,266.0 C1339.9,274.3 1339.9,282.7 1340.6,291.0 C1341.2,299.3 1343.2,307.7 1343.6,316.0 C1344.1,324.3 1343.4,332.7 1343.2,341.0 C1343.1,349.3 1343.0,357.7 1342.6,366.0 C1342.2,374.3 1341.0,382.7 1340.9,391.0 C1340.8,399.3 1341.9,407.7 1341.8,416.0 C1341.8,424.3 1341.0,432.7 1340.7,441.0 C1340.4,449.3 1340.4,457.7 1340.1,466.0 C1339.7,474.3 1338.6,482.7 1338.8,491.0 C1339.0,499.3 1340.7,507.7 1341.4,516.0 C1342.0,524.3 1342.4,532.7 1342.8,541.0 C1343.2,549.3 1343.9,557.7 1343.7,566.0 C1343.5,574.3 1342.0,582.7 1341.7,591.0 C1341.4,599.3 1342.1,607.7 1342.0,616.0 C1342.0,624.3 1341.6,632.7 1341.5,641.0 C1341.5,649.3 1341.9,657.7 1341.5,666.0 C1341.1,674.3 1339.4,682.7 1339.0,691.0 C1338.7,699.3 1339.2,707.7 1339.5,716.0 C1339.8,724.3 1340.0,732.7 1340.7,741.0 C1341.3,749.3 1343.1,757.7 1343.4,766.0 C1343.7,774.3 1342.7,782.7 1342.6,791.0 C1342.4,799.3 1342.6,807.7 1342.4,816.0 C1342.3,824.3 1341.6,832.7 1341.7,841.0 C1341.7,849.3 1342.9,857.7 1342.7,866.0 C1342.6,874.3 1341.3,882.7 1340.8,891.0 C1340.2,899.3 1340.0,907.7 1339.6,916.0 C1339.3,924.3 1338.4,932.7 1338.7,941.0 C1339.0,949.3 1340.9,957.5 1341.5,966.0 C1342.1,974.5 1342.2,987.7 1342.4,992.0"/><path d="M1523.5,91.0 C1523.2,95.2 1522.6,107.7 1522.0,116.0 C1521.5,124.3 1520.2,132.7 1520.1,141.0 C1519.9,149.3 1520.7,157.7 1521.2,166.0 C1521.6,174.3 1522.4,182.7 1522.9,191.0 C1523.4,199.3 1524.1,207.7 1524.2,216.0 C1524.3,224.3 1523.4,232.7 1523.4,241.0 C1523.3,249.3 1523.6,257.7 1523.7,266.0 C1523.8,274.3 1524.0,282.7 1524.1,291.0 C1524.1,299.3 1524.4,307.7 1524.0,316.0 C1523.6,324.3 1522.2,332.7 1521.6,341.0 C1521.0,349.3 1520.5,357.7 1520.4,366.0 C1520.3,374.3 1520.5,382.7 1521.0,391.0 C1521.4,399.3 1522.8,407.7 1523.2,416.0 C1523.6,424.3 1523.4,432.7 1523.4,441.0 C1523.4,449.3 1523.4,457.7 1523.4,466.0 C1523.4,474.3 1523.3,482.7 1523.5,491.0 C1523.8,499.3 1524.8,507.7 1524.8,516.0 C1524.9,524.3 1524.3,532.7 1523.8,541.0 C1523.3,549.3 1522.4,557.7 1521.8,566.0 C1521.2,574.3 1520.2,582.7 1520.2,591.0 C1520.1,599.3 1521.1,607.7 1521.5,616.0 C1521.9,624.3 1522.4,632.7 1522.7,641.0 C1523.0,649.3 1523.3,657.7 1523.3,666.0 C1523.3,674.3 1522.6,682.7 1522.8,691.0 C1522.9,699.3 1523.7,707.7 1524.1,716.0 C1524.4,724.3 1524.8,732.7 1524.8,741.0 C1524.8,749.3 1524.7,757.7 1524.2,766.0 C1523.6,774.3 1522.0,782.7 1521.5,791.0 C1520.9,799.3 1520.7,807.7 1520.7,816.0 C1520.7,824.3 1521.1,832.7 1521.4,841.0 C1521.8,849.3 1522.7,857.7 1522.8,866.0 C1523.0,874.3 1522.4,882.7 1522.4,891.0 C1522.4,899.3 1522.6,907.7 1522.9,916.0 C1523.1,924.3 1523.6,932.7 1524.0,941.0 C1524.4,949.3 1525.4,957.5 1525.4,966.0 C1525.3,974.5 1524.0,987.7 1523.7,992.0"/><path d="M1704.3,91.0 C1704.1,95.2 1703.4,107.7 1702.9,116.0 C1702.4,124.3 1701.2,132.7 1701.3,141.0 C1701.3,149.3 1702.7,157.7 1703.3,166.0 C1703.9,174.3 1704.3,182.7 1704.7,191.0 C1705.0,199.3 1705.7,207.7 1705.6,216.0 C1705.6,224.3 1704.5,232.7 1704.5,241.0 C1704.4,249.3 1705.3,257.7 1705.4,266.0 C1705.6,274.3 1705.5,282.7 1705.4,291.0 C1705.3,299.3 1705.5,307.7 1705.0,316.0 C1704.5,324.3 1702.6,332.7 1702.1,341.0 C1701.6,349.3 1701.8,357.7 1702.0,366.0 C1702.1,374.3 1702.3,382.7 1702.8,391.0 C1703.3,399.3 1704.8,407.7 1705.1,416.0 C1705.4,424.3 1704.6,432.7 1704.5,441.0 C1704.5,449.3 1704.8,457.7 1704.9,466.0 C1705.0,474.3 1704.9,482.7 1705.1,491.0 C1705.3,499.3 1706.5,507.7 1706.4,516.0 C1706.2,524.3 1705.0,532.7 1704.4,541.0 C1703.8,549.3 1703.2,557.7 1702.7,566.0 C1702.2,574.3 1701.3,582.7 1701.5,591.0 C1701.6,599.3 1703.1,607.7 1703.6,616.0 C1704.0,624.3 1704.0,632.7 1704.2,641.0 C1704.3,649.3 1704.7,657.7 1704.7,666.0 C1704.7,674.3 1703.9,682.7 1704.2,691.0 C1704.4,699.3 1705.7,707.7 1706.0,716.0 C1706.3,724.3 1706.2,732.7 1706.0,741.0 C1705.8,749.3 1705.6,757.7 1705.0,766.0 C1704.3,774.3 1702.5,782.7 1702.1,791.0 C1701.7,799.3 1702.2,807.7 1702.4,816.0 C1702.6,824.3 1702.7,832.7 1703.1,841.0 C1703.4,849.3 1704.4,857.7 1704.5,866.0 C1704.5,874.3 1703.5,882.7 1703.6,891.0 C1703.6,899.3 1704.4,907.7 1704.7,916.0 C1705.1,924.3 1705.3,932.7 1705.7,941.0 C1706.0,949.3 1707.0,957.5 1706.8,966.0 C1706.5,974.5 1704.6,987.7 1704.2,992.0"/><path d="M1885.9,91.0 C1885.8,95.2 1885.5,107.7 1885.8,116.0 C1886.1,124.3 1887.4,132.7 1887.6,141.0 C1887.9,149.3 1887.6,157.7 1887.3,166.0 C1887.0,174.3 1886.5,182.7 1885.8,191.0 C1885.1,199.3 1883.6,207.7 1883.3,216.0 C1883.0,224.3 1883.7,232.7 1883.9,241.0 C1884.2,249.3 1884.5,257.7 1884.8,266.0 C1885.0,274.3 1885.6,282.7 1885.7,291.0 C1885.7,299.3 1884.8,307.7 1884.9,316.0 C1885.0,324.3 1885.9,332.7 1886.3,341.0 C1886.7,349.3 1887.1,357.7 1887.4,366.0 C1887.7,374.3 1888.2,382.7 1887.9,391.0 C1887.5,399.3 1885.9,407.7 1885.2,416.0 C1884.6,424.3 1884.2,432.7 1884.0,441.0 C1883.7,449.3 1883.6,457.7 1883.8,466.0 C1884.0,474.3 1885.1,482.7 1885.3,491.0 C1885.4,499.3 1884.7,507.7 1884.7,516.0 C1884.7,524.3 1884.9,532.7 1885.1,541.0 C1885.3,549.3 1885.4,557.7 1885.9,566.0 C1886.4,574.3 1887.9,582.7 1888.1,591.0 C1888.4,599.3 1887.8,607.7 1887.4,616.0 C1887.0,624.3 1886.3,632.7 1885.7,641.0 C1885.1,649.3 1883.9,657.7 1883.7,666.0 C1883.6,674.3 1884.5,682.7 1884.7,691.0 C1884.8,699.3 1884.7,707.7 1884.7,716.0 C1884.7,724.3 1884.9,732.7 1884.8,741.0 C1884.7,749.3 1884.0,757.7 1884.2,766.0 C1884.5,774.3 1885.9,782.7 1886.5,791.0 C1887.1,799.3 1887.5,807.7 1887.7,816.0 C1887.9,824.3 1888.2,832.7 1887.8,841.0 C1887.4,849.3 1885.7,857.7 1885.2,866.0 C1884.7,874.3 1884.7,882.7 1884.6,891.0 C1884.5,899.3 1884.4,907.7 1884.5,916.0 C1884.6,924.3 1885.2,932.7 1885.1,941.0 C1885.0,949.3 1883.9,957.5 1883.8,966.0 C1883.7,974.5 1884.4,987.7 1884.6,992.0"/></g>
<g fill="none" stroke="#000" stroke-width="4.6" stroke-linejoin="round"><path d="M89.7,86.0 L89.7,88.5 L89.6,91.0 L89.6,93.5 L89.6,96.0 L89.5,98.5 L89.4,101.1 L89.4,103.6 L89.3,106.1 L89.2,108.6 L89.1,111.1 L89.1,113.6 L89.0,116.1 L88.9,118.6 L88.9,121.1 L88.8,123.6 L88.8,126.2 L88.8,128.7 L88.8,131.2 L88.8,133.7 L88.8,136.2 L88.8,138.7 L88.9,141.2 L89.0,143.7 L89.1,146.2 L89.2,148.7 L89.4,151.2 L89.6,153.7 L89.8,156.3 L90.1,158.8 L90.4,161.3 L90.7,163.8 L91.0,166.3 L91.3,168.8 L91.6,171.3 L91.9,173.8 L92.1,176.3 L92.3,178.8 L92.5,181.3 L92.7,183.7 L92.7,186.2 L92.8,188.7 L92.7,191.2 L92.6,193.7 L92.3,196.2 L92.0,198.6 L91.6,201.1 L91.2,203.6 L90.8,206.0 L90.3,208.5 L89.8,211.0 L89.4,213.5 L89.0,215.9 L88.6,218.4 L88.4,220.9 L88.2,223.4 L88.1,225.9 L88.1,228.3 L88.2,230.8 L88.4,233.3 L88.6,235.8 L88.8,238.3 L89.1,240.8 L89.4,243.3 L89.8,245.9 L90.1,248.4 L90.4,250.9 L90.8,253.4 L91.0,255.9 L91.3,258.4 L91.5,260.9 L91.7,263.4 L91.7,265.9 L91.8,268.4 L91.8,271.0 L91.7,273.5 L91.7,276.0 L91.6,278.5 L91.5,281.0 L91.5,283.5 L91.4,286.0 L91.4,288.5 L91.4,291.0 L91.5,293.5 L91.6,296.0 L91.8,298.5 L91.9,301.0 L92.1,303.5 L92.3,306.1 L92.5,308.6 L92.6,311.1 L92.8,313.6 L92.9,316.1 L93.0,318.6 L93.0,321.1 L92.9,323.6 L92.8,326.1 L92.7,328.6 L92.5,331.1 L92.3,333.6 L92.1,336.1 L91.8,338.6 L91.5,341.1 L91.2,343.6 L90.9,346.1 L90.6,348.6 L90.3,351.1 L90.0,353.6 L89.8,356.1 L89.5,358.6 L89.3,361.1 L89.1,363.6 L88.9,366.1 L88.8,368.6 L88.6,371.1 L88.5,373.6 L88.4,376.1 L88.4,378.6 L88.3,381.1 L88.3,383.6 L88.3,386.1 L88.4,388.6 L88.4,391.1 L88.5,393.6 L88.6,396.1 L88.6,398.6 L88.7,401.1 L88.9,403.7 L89.0,406.2 L89.1,408.7 L89.2,411.2 L89.4,413.7 L89.5,416.2 L89.7,418.7 L89.8,421.2 L89.9,423.7 L90.1,426.3 L90.2,428.8 L90.3,431.3 L90.4,433.8 L90.5,436.3 L90.6,438.8 L90.7,441.3 L90.8,443.8 L90.8,446.3 L90.8,448.9 L90.8,451.4 L90.8,453.9 L90.8,456.4 L90.7,458.9 L90.7,461.4 L90.6,463.9 L90.5,466.4 L90.4,468.9 L90.3,471.4 L90.1,473.9 L90.0,476.4 L89.9,478.9 L89.7,481.4 L89.6,483.9 L89.4,486.5 L89.3,489.0 L89.1,491.5 L89.0,494.0 L88.9,496.5 L88.7,499.0 L88.6,501.5 L88.5,504.0 L88.5,506.5 L88.4,509.0 L88.4,511.5 L88.3,514.0 L88.3,516.5 L88.4,519.0 L88.4,521.5 L88.5,524.0 L88.6,526.5 L88.7,529.0 L88.9,531.5 L89.1,534.0 L89.3,536.5 L89.5,539.0 L89.7,541.5 L89.9,544.0 L90.2,546.5 L90.4,549.0 L90.6,551.5 L90.8,554.0 L91.0,556.5 L91.1,559.0 L91.3,561.5 L91.4,564.0 L91.5,566.5 L91.6,569.1 L91.6,571.6 L91.7,574.1 L91.7,576.6 L91.7,579.1 L91.7,581.6 L91.7,584.1 L91.6,586.6 L91.6,589.1 L91.5,591.7 L91.4,594.2 L91.3,596.7 L91.2,599.2 L91.1,601.7 L90.9,604.2 L90.8,606.7 L90.6,609.2 L90.4,611.8 L90.3,614.3 L90.1,616.8 L89.9,619.3 L89.7,621.8 L89.4,624.3 L89.2,626.8 L89.0,629.3 L88.8,631.8 L88.5,634.3 L88.3,636.8 L88.0,639.3 L87.8,641.8 L87.6,644.3 L87.4,646.8 L87.2,649.3 L87.1,651.8 L87.0,654.3 L87.0,656.7 L87.0,659.2 L87.0,661.7 L87.2,664.2 L87.3,666.7 L87.5,669.2 L87.7,671.7 L88.0,674.2 L88.2,676.7 L88.5,679.2 L88.7,681.7 L88.9,684.1 L89.1,686.6 L89.2,689.1 L89.3,691.6 L89.4,694.1 L89.4,696.7 L89.5,699.2 L89.5,701.7 L89.4,704.2 L89.4,706.7 L89.4,709.2 L89.3,711.7 L89.2,714.2 L89.2,716.7 L89.1,719.3 L89.0,721.8 L89.0,724.3 L88.9,726.8 L88.9,729.3 L88.9,731.8 L88.9,734.3 L88.9,736.8 L88.9,739.3 L89.0,741.9 L89.1,744.4 L89.3,746.9 L89.4,749.4 L89.6,751.9 L89.9,754.4 L90.2,756.9 L90.5,759.4 L90.8,761.9 L91.1,764.4 L91.5,766.9 L91.8,769.3 L92.1,771.8 L92.5,774.3 L92.8,776.8 L93.0,779.3 L93.3,781.8 L93.5,784.3 L93.6,786.8 L93.7,789.3 L93.8,791.8 L93.8,794.3 L93.7,796.8 L93.6,799.3 L93.5,801.8 L93.3,804.4 L93.1,806.9 L92.9,809.4 L92.6,811.9 L92.3,814.4 L92.0,816.9 L91.7,819.4 L91.3,821.9 L90.9,824.4 L90.5,826.9 L90.2,829.4 L89.8,831.8 L89.4,834.3 L89.0,836.8 L88.6,839.3 L88.2,841.8 L87.9,844.3 L87.6,846.8 L87.3,849.2 L87.1,851.7 L86.8,854.2 L86.7,856.7 L86.6,859.2 L86.5,861.7 L86.4,864.2 L86.5,866.7 L86.5,869.3 L86.6,871.8 L86.7,874.3 L86.8,876.8 L87.0,879.3 L87.1,881.8 L87.4,884.3 L87.6,886.8 L87.8,889.3 L88.1,891.9 L88.4,894.4 L88.7,896.9 L88.9,899.4 L89.2,901.9 L89.5,904.4 L89.7,906.9 L89.9,909.4 L90.0,911.9 L90.1,914.4 L90.2,916.9 L90.1,919.4 L90.1,921.9 L89.9,924.4 L89.8,926.9 L89.6,929.4 L89.4,931.9 L89.3,934.4 L89.1,936.9 L89.0,939.4 L88.9,941.9 L88.9,944.4 L88.9,946.9 L89.0,949.4 L89.1,951.9 L89.3,954.4 L89.4,956.9 L89.6,959.4 L89.9,961.9 L90.1,964.5 L90.3,967.0 L90.6,969.5 L90.8,972.0 L91.1,974.5 L91.3,977.0 L91.5,979.5 L91.7,982.0 L91.9,984.5 L92.0,987.0 L92.1,989.5 L92.2,992.0 L92.2,991.9 L94.7,992.1 L97.2,992.3 L99.7,992.4 L102.2,992.5 L104.7,992.6 L107.2,992.8 L109.7,992.9 L112.2,992.9 L114.7,993.0 L117.2,993.1 L119.7,993.2 L122.2,993.2 L124.7,993.3 L127.2,993.3 L129.8,993.3 L132.3,993.4 L134.8,993.4 L137.3,993.4 L139.8,993.4 L142.3,993.4 L144.8,993.4 L147.3,993.4 L149.8,993.4 L152.3,993.3 L154.8,993.3 L157.3,993.3 L159.8,993.2 L162.3,993.2 L164.8,993.1 L167.3,993.1 L169.8,993.0 L172.3,993.0 L174.8,992.9 L177.3,992.8 L179.8,992.8 L182.3,992.7 L184.8,992.6 L187.3,992.5 L189.8,992.5 L192.3,992.4 L194.9,992.3 L197.4,992.2 L199.9,992.1 L202.4,992.0 L204.9,992.0 L207.4,991.9 L209.9,991.8 L212.4,991.7 L214.9,991.6 L217.4,991.5 L219.9,991.5 L222.4,991.4 L224.9,991.3 L227.4,991.2 L229.9,991.1 L232.4,991.1 L234.9,991.0 L237.4,990.9 L239.9,990.9 L242.4,990.8 L244.9,990.7 L247.4,990.7 L249.9,990.6 L252.4,990.6 L254.9,990.5 L257.5,990.5 L260.0,990.4 L262.5,990.4 L265.0,990.4 L267.5,990.4 L270.0,990.4 L272.5,990.4 L275.0,990.4 L277.5,990.4 L280.0,990.4 L282.5,990.4 L285.0,990.4 L287.5,990.4 L290.0,990.5 L292.5,990.5 L295.0,990.6 L297.5,990.6 L300.0,990.7 L302.5,990.7 L305.0,990.8 L307.5,990.9 L310.0,990.9 L312.5,991.0 L315.0,991.1 L317.5,991.2 L320.0,991.2 L322.5,991.3 L325.0,991.4 L327.5,991.5 L330.0,991.6 L332.6,991.7 L335.1,991.7 L337.6,991.8 L340.1,991.9 L342.6,992.0 L345.1,992.1 L347.6,992.2 L350.1,992.2 L352.6,992.3 L355.1,992.4 L357.6,992.5 L360.1,992.6 L362.6,992.6 L365.1,992.7 L367.6,992.8 L370.1,992.8 L372.6,992.9 L375.1,992.9 L377.6,993.0 L380.1,993.0 L382.6,993.1 L385.1,993.1 L387.6,993.1 L390.1,993.2 L392.6,993.2 L395.1,993.2 L397.6,993.2 L400.1,993.2 L402.6,993.2 L405.1,993.2 L407.6,993.2 L410.2,993.1 L412.7,993.1 L415.2,993.0 L417.7,993.0 L420.2,992.9 L422.7,992.9 L425.2,992.8 L427.7,992.7 L430.2,992.7 L432.7,992.6 L435.2,992.5 L437.7,992.4 L440.2,992.4 L442.7,992.3 L445.2,992.2 L447.7,992.1 L450.2,992.0 L452.7,991.9 L455.2,991.9 L457.7,991.8 L460.2,991.7 L462.7,991.6 L465.2,991.6 L467.7,991.5 L470.2,991.5 L472.7,991.4 L475.2,991.3 L477.7,991.3 L480.2,991.3 L482.7,991.2 L485.2,991.2 L487.8,991.2 L490.3,991.2 L492.8,991.2 L495.3,991.2 L497.8,991.2 L500.3,991.2 L502.8,991.2 L505.3,991.2 L507.8,991.2 L510.3,991.2 L512.8,991.3 L515.3,991.3 L517.8,991.3 L520.3,991.4 L522.8,991.4 L525.3,991.4 L527.8,991.5 L530.3,991.5 L532.8,991.5 L535.3,991.6 L537.8,991.6 L540.3,991.7 L542.8,991.7 L545.3,991.7 L547.8,991.8 L550.3,991.8 L552.8,991.8 L555.3,991.8 L557.8,991.9 L560.3,991.9 L562.8,991.9 L565.3,991.9 L567.8,991.9 L570.3,991.9 L572.9,991.9 L575.4,991.9 L577.9,991.9 L580.4,991.9 L582.9,991.9 L585.4,991.9 L587.9,991.9 L590.4,991.9 L592.9,991.8 L595.4,991.8 L597.9,991.8 L600.4,991.8 L602.9,991.7 L605.4,991.7 L607.9,991.7 L610.4,991.7 L612.9,991.7 L615.4,991.6 L617.9,991.6 L620.4,991.6 L622.9,991.6 L625.4,991.6 L627.9,991.6 L630.4,991.6 L632.9,991.6 L635.4,991.7 L637.9,991.7 L640.4,991.7 L642.9,991.7 L645.5,991.8 L648.0,991.8 L650.5,991.9 L653.0,991.9 L655.5,992.0 L658.0,992.1 L660.5,992.1 L663.0,992.2 L665.5,992.3 L668.0,992.3 L670.5,992.4 L673.0,992.4 L675.5,992.5 L678.0,992.5 L680.5,992.5 L683.0,992.6 L685.5,992.6 L688.0,992.6 L690.5,992.6 L693.0,992.5 L695.5,992.5 L698.0,992.5 L700.5,992.4 L703.0,992.3 L705.5,992.3 L708.0,992.2 L710.5,992.1 L713.0,992.0 L715.5,991.9 L718.0,991.8 L720.5,991.7 L723.0,991.5 L725.5,991.4 L728.0,991.3 L730.5,991.2 L733.0,991.0 L735.5,990.9 L738.0,990.8 L740.5,990.6 L743.0,990.5 L745.6,990.4 L748.1,990.3 L750.6,990.2 L753.1,990.0 L755.6,989.9 L758.1,989.8 L760.6,989.7 L763.1,989.7 L765.6,989.6 L768.1,989.5 L770.6,989.5 L773.1,989.4 L775.6,989.4 L778.1,989.3 L780.6,989.3 L783.1,989.3 L785.6,989.3 L788.1,989.3 L790.6,989.3 L793.1,989.4 L795.6,989.4 L798.1,989.5 L800.6,989.5 L803.1,989.6 L805.6,989.7 L808.1,989.8 L810.6,989.9 L813.1,990.0 L815.6,990.1 L818.1,990.2 L820.6,990.4 L823.1,990.5 L825.6,990.6 L828.1,990.7 L830.6,990.9 L833.1,991.0 L835.6,991.1 L838.1,991.2 L840.6,991.4 L843.1,991.5 L845.6,991.6 L848.1,991.7 L850.6,991.8 L853.1,991.9 L855.6,992.0 L858.1,992.1 L860.6,992.2 L863.1,992.2 L865.6,992.3 L868.1,992.4 L870.6,992.4 L873.1,992.4 L875.6,992.4 L878.1,992.4 L880.6,992.4 L883.2,992.4 L885.7,992.3 L888.2,992.3 L890.7,992.2 L893.2,992.1 L895.7,992.0 L898.2,991.9 L900.7,991.8 L903.2,991.7 L905.7,991.6 L908.2,991.5 L910.7,991.3 L913.2,991.2 L915.7,991.1 L918.2,990.9 L920.7,990.8 L923.2,990.7 L925.7,990.5 L928.2,990.4 L930.7,990.3 L933.2,990.1 L935.7,990.0 L938.2,989.9 L940.7,989.8 L943.2,989.7 L945.7,989.6 L948.2,989.6 L950.7,989.5 L953.2,989.4 L955.7,989.4 L958.2,989.3 L960.7,989.3 L963.2,989.3 L965.7,989.3 L968.2,989.3 L970.7,989.3 L973.2,989.3 L975.7,989.3 L978.2,989.4 L980.7,989.4 L983.2,989.4 L985.7,989.5 L988.2,989.5 L990.8,989.6 L993.3,989.6 L995.8,989.7 L998.3,989.8 L1000.8,989.9 L1003.3,989.9 L1005.8,990.0 L1008.3,990.1 L1010.8,990.2 L1013.3,990.3 L1015.8,990.4 L1018.3,990.5 L1020.8,990.6 L1023.3,990.7 L1025.8,990.8 L1028.3,990.9 L1030.8,991.0 L1033.3,991.1 L1035.8,991.2 L1038.3,991.3 L1040.8,991.4 L1043.3,991.5 L1045.8,991.6 L1048.3,991.7 L1050.8,991.8 L1053.3,991.9 L1055.8,992.0 L1058.3,992.1 L1060.8,992.2 L1063.3,992.3 L1065.9,992.3 L1068.4,992.4 L1070.9,992.5 L1073.4,992.6 L1075.9,992.6 L1078.4,992.7 L1080.9,992.7 L1083.4,992.8 L1085.9,992.8 L1088.4,992.8 L1090.9,992.9 L1093.4,992.9 L1095.9,992.9 L1098.4,992.9 L1100.9,992.9 L1103.4,992.9 L1105.9,992.9 L1108.4,992.9 L1110.9,992.9 L1113.4,992.8 L1115.9,992.8 L1118.4,992.8 L1120.9,992.7 L1123.4,992.7 L1125.9,992.7 L1128.4,992.6 L1130.9,992.6 L1133.5,992.5 L1136.0,992.5 L1138.5,992.4 L1141.0,992.4 L1143.5,992.3 L1146.0,992.3 L1148.5,992.2 L1151.0,992.2 L1153.5,992.1 L1156.0,992.1 L1158.5,992.0 L1161.0,992.0 L1163.5,991.9 L1166.0,991.9 L1168.5,991.8 L1171.0,991.8 L1173.5,991.7 L1176.0,991.7 L1178.5,991.7 L1181.0,991.6 L1183.5,991.6 L1186.0,991.6 L1188.5,991.5 L1191.0,991.5 L1193.5,991.5 L1196.1,991.5 L1198.6,991.5 L1201.1,991.5 L1203.6,991.5 L1206.1,991.5 L1208.6,991.5 L1211.1,991.5 L1213.6,991.6 L1216.1,991.6 L1218.6,991.6 L1221.1,991.7 L1223.6,991.7 L1226.1,991.7 L1228.6,991.8 L1231.1,991.8 L1233.6,991.8 L1236.1,991.9 L1238.6,991.9 L1241.1,992.0 L1243.6,992.0 L1246.1,992.0 L1248.6,992.1 L1251.1,992.1 L1253.6,992.1 L1256.2,992.1 L1258.7,992.2 L1261.2,992.2 L1263.7,992.2 L1266.2,992.2 L1268.7,992.2 L1271.2,992.2 L1273.7,992.2 L1276.2,992.2 L1278.7,992.2 L1281.2,992.1 L1283.7,992.1 L1286.2,992.1 L1288.7,992.0 L1291.2,992.0 L1293.7,991.9 L1296.2,991.8 L1298.7,991.7 L1301.2,991.7 L1303.7,991.6 L1306.2,991.5 L1308.7,991.4 L1311.2,991.3 L1313.7,991.2 L1316.2,991.1 L1318.7,991.0 L1321.2,991.0 L1323.7,990.9 L1326.2,990.8 L1328.7,990.8 L1331.2,990.7 L1333.7,990.7 L1336.2,990.6 L1338.7,990.6 L1341.2,990.6 L1343.7,990.6 L1346.2,990.7 L1348.7,990.7 L1351.2,990.8 L1353.7,990.8 L1356.2,990.9 L1358.7,991.0 L1361.2,991.1 L1363.7,991.2 L1366.3,991.3 L1368.8,991.4 L1371.3,991.5 L1373.8,991.6 L1376.3,991.7 L1378.8,991.8 L1381.3,991.9 L1383.8,992.0 L1386.3,992.1 L1388.8,992.2 L1391.3,992.3 L1393.8,992.4 L1396.3,992.5 L1398.8,992.5 L1401.3,992.6 L1403.8,992.7 L1406.3,992.7 L1408.8,992.7 L1411.3,992.8 L1413.8,992.8 L1416.3,992.8 L1418.8,992.9 L1421.3,992.9 L1423.8,992.9 L1426.3,992.9 L1428.8,992.9 L1431.3,992.9 L1433.8,992.9 L1436.3,992.9 L1438.8,992.8 L1441.3,992.8 L1443.9,992.8 L1446.4,992.8 L1448.9,992.7 L1451.4,992.7 L1453.9,992.7 L1456.4,992.6 L1458.9,992.6 L1461.4,992.5 L1463.9,992.5 L1466.4,992.4 L1468.9,992.4 L1471.4,992.3 L1473.9,992.2 L1476.4,992.2 L1478.9,992.1 L1481.4,992.1 L1483.9,992.0 L1486.4,991.9 L1488.9,991.9 L1491.4,991.8 L1493.9,991.8 L1496.4,991.7 L1498.9,991.7 L1501.4,991.6 L1504.0,991.6 L1506.5,991.6 L1509.0,991.5 L1511.5,991.5 L1514.0,991.5 L1516.5,991.5 L1519.0,991.5 L1521.5,991.5 L1524.0,991.5 L1526.5,991.5 L1529.0,991.6 L1531.5,991.6 L1534.0,991.6 L1536.5,991.7 L1539.0,991.8 L1541.5,991.8 L1544.0,991.9 L1546.5,992.0 L1549.0,992.1 L1551.5,992.1 L1554.0,992.2 L1556.5,992.3 L1559.0,992.3 L1561.5,992.4 L1564.0,992.5 L1566.5,992.5 L1569.0,992.5 L1571.5,992.6 L1574.0,992.6 L1576.5,992.6 L1579.0,992.6 L1581.5,992.6 L1584.0,992.5 L1586.5,992.5 L1589.0,992.4 L1591.5,992.4 L1594.0,992.3 L1596.5,992.3 L1599.0,992.2 L1601.5,992.1 L1604.0,992.0 L1606.5,992.0 L1609.0,991.9 L1611.6,991.8 L1614.1,991.7 L1616.6,991.6 L1619.1,991.6 L1621.6,991.5 L1624.1,991.4 L1626.6,991.4 L1629.1,991.3 L1631.6,991.3 L1634.1,991.2 L1636.6,991.2 L1639.1,991.2 L1641.6,991.2 L1644.1,991.1 L1646.6,991.1 L1649.1,991.1 L1651.6,991.1 L1654.1,991.1 L1656.6,991.1 L1659.1,991.1 L1661.6,991.1 L1664.1,991.1 L1666.6,991.2 L1669.1,991.2 L1671.6,991.2 L1674.1,991.2 L1676.6,991.2 L1679.2,991.2 L1681.7,991.2 L1684.2,991.2 L1686.7,991.2 L1689.2,991.2 L1691.7,991.2 L1694.2,991.2 L1696.7,991.2 L1699.2,991.2 L1701.7,991.2 L1704.2,991.2 L1706.7,991.3 L1709.2,991.3 L1711.7,991.3 L1714.2,991.3 L1716.7,991.3 L1719.2,991.3 L1721.7,991.3 L1724.2,991.3 L1726.7,991.3 L1729.2,991.3 L1731.7,991.3 L1734.2,991.3 L1736.7,991.3 L1739.2,991.3 L1741.8,991.3 L1744.3,991.3 L1746.8,991.3 L1749.3,991.3 L1751.8,991.3 L1754.3,991.3 L1756.8,991.3 L1759.3,991.3 L1761.8,991.3 L1764.3,991.3 L1766.8,991.3 L1769.3,991.3 L1771.8,991.3 L1774.3,991.4 L1776.8,991.4 L1779.3,991.4 L1781.8,991.4 L1784.3,991.4 L1786.8,991.4 L1789.3,991.4 L1791.8,991.4 L1794.3,991.4 L1796.8,991.4 L1799.3,991.4 L1801.9,991.4 L1804.4,991.4 L1806.9,991.4 L1809.4,991.4 L1811.9,991.4 L1814.4,991.4 L1816.9,991.4 L1819.4,991.4 L1821.9,991.5 L1824.4,991.5 L1826.9,991.5 L1829.4,991.5 L1831.9,991.5 L1834.4,991.5 L1836.9,991.5 L1839.4,991.5 L1841.9,991.5 L1844.4,991.5 L1846.9,991.5 L1849.4,991.6 L1851.9,991.6 L1854.4,991.6 L1856.9,991.6 L1859.4,991.6 L1861.9,991.6 L1864.5,991.6 L1867.0,991.6 L1869.5,991.7 L1872.0,991.7 L1874.5,991.7 L1877.0,991.7 L1879.5,991.7 L1882.0,991.7 L1884.5,991.7 L1887.0,991.8 L1889.5,991.8 L1892.0,991.8" stroke-linejoin="miter"/><path d="M81.2,105 L90,85.5 L98.5,105" stroke-linecap="butt"/><path d="M1873,984 L1893,991.8 L1873,999.8" stroke-linecap="butt"/></g>
<path d="M90.0,946.1 L92.1,945.3 L94.3,944.5 L96.4,943.6 L98.5,942.8 L100.6,942.0 L102.8,941.1 L104.9,940.3 L107.0,939.4 L109.1,938.6 L111.3,937.7 L113.4,936.9 L115.5,936.1 L117.7,935.2 L119.8,934.4 L121.9,933.6 L124.1,932.8 L126.2,932.0 L128.4,931.2 L130.5,930.4 L132.6,929.7 L134.8,928.9 L137.0,928.2 L139.1,927.5 L141.3,926.8 L143.5,926.1 L145.7,925.4 L147.8,924.8 L150.0,924.1 L152.2,923.5 L154.4,922.9 L156.6,922.4 L158.9,921.8 L161.1,921.3 L163.3,920.8 L165.6,920.4 L167.8,919.9 L170.1,919.5 L172.3,919.1 L174.6,918.7 L176.8,918.3 L179.1,917.9 L181.3,917.5 L183.6,917.1 L185.8,916.7 L188.1,916.3 L190.3,915.9 L192.6,915.4 L194.8,915.0 L197.1,914.6 L199.3,914.3 L201.6,913.9 L203.8,913.7 L206.1,913.4 L208.4,913.3 L210.7,913.1 L213.0,913.0 L215.3,913.0 L217.6,912.9 L219.9,912.8 L222.2,912.7 L224.5,912.6 L226.7,912.4 L229.0,912.2 L231.3,912.0 L233.5,911.7 L235.8,911.3 L238.0,910.9 L240.3,910.5 L242.5,910.1 L244.7,909.6 L246.9,909.1 L249.1,908.5 L251.3,908.0 L253.5,907.4 L255.7,906.8 L257.9,906.1 L260.1,905.5 L262.3,904.8 L264.5,904.1 L266.6,903.4 L268.8,902.7 L271.0,902.0 L273.2,901.3 L275.3,900.6 L277.5,899.9 L279.7,899.2 L281.9,898.5 L284.1,897.8 L286.2,897.1 L288.4,896.4 L290.6,895.7 L292.8,895.0 L294.9,894.3 L297.1,893.6 L299.3,892.9 L301.5,892.2 L303.6,891.5 L305.8,890.8 L308.0,890.0 L310.2,889.3 L312.3,888.6 L314.5,887.9 L316.6,887.1 L318.8,886.4 L320.9,885.6 L323.1,884.8 L325.2,884.1 L327.4,883.3 L329.5,882.5 L331.7,881.7 L333.8,880.9 L335.9,880.1 L338.1,879.3 L340.2,878.5 L342.3,877.6 L344.5,876.8 L346.6,876.0 L348.7,875.1 L350.8,874.3 L353.0,873.5 L355.1,872.7 L357.2,871.8 L359.4,871.0 L361.5,870.2 L363.6,869.4 L365.8,868.5 L367.9,867.7 L370.0,866.9 L372.2,866.1 L374.3,865.3 L376.4,864.5 L378.6,863.7 L380.7,862.9 L382.9,862.2 L385.0,861.4 L387.2,860.6 L389.3,859.9 L391.5,859.1 L393.7,858.3 L395.8,857.6 L398.0,856.8 L400.1,856.1 L402.3,855.3 L404.4,854.6 L406.6,853.8 L408.8,853.0 L410.9,852.3 L413.1,851.5 L415.2,850.8 L417.4,850.0 L419.5,849.2 L421.7,848.4 L423.8,847.7 L426.0,846.9 L428.1,846.1 L430.3,845.3 L432.4,844.6 L434.5,843.8 L436.7,843.0 L438.8,842.2 L441.0,841.4 L443.1,840.6 L445.2,839.8 L447.4,839.0 L449.5,838.2 L451.6,837.3 L453.8,836.5 L455.9,835.7 L458.0,834.9 L460.2,834.1 L462.3,833.2 L464.4,832.4 L466.5,831.5 L468.6,830.7 L470.8,829.8 L472.9,829.0 L475.0,828.1 L477.1,827.3 L479.2,826.4 L481.3,825.5 L483.4,824.6 L485.6,823.8 L487.7,822.9 L489.8,822.0 L491.9,821.1 L494.0,820.2 L496.1,819.3 L498.2,818.3 L500.3,817.4 L502.3,816.5 L504.4,815.6 L506.5,814.6 L508.6,813.7 L510.7,812.7 L512.8,811.8 L514.8,810.8 L516.9,809.8 L519.0,808.9 L521.0,807.9 L523.1,806.9 L525.2,805.9 L527.2,804.9 L529.3,803.9 L531.3,802.8 L533.4,801.8 L535.4,800.8 L537.4,799.7 L539.5,798.7 L541.5,797.6 L543.5,796.6 L545.5,795.5 L547.5,794.4 L549.5,793.3 L551.6,792.3 L553.6,791.2 L555.6,790.1 L557.6,789.0 L559.6,787.9 L561.6,786.8 L563.6,785.7 L565.6,784.7 L567.6,783.6 L569.6,782.5 L571.7,781.5 L573.7,780.5 L575.7,779.4 L577.8,778.4 L579.8,777.4 L581.9,776.5 L584.0,775.5 L586.1,774.6 L588.2,773.7 L590.3,772.8 L592.4,772.0 L594.5,771.1 L596.7,770.3 L598.8,769.5 L601.0,768.7 L603.1,768.0 L605.3,767.2 L607.4,766.4 L609.6,765.7 L611.8,764.9 L613.9,764.1 L616.1,763.4 L618.2,762.6 L620.4,761.8 L622.5,761.0 L624.6,760.1 L626.8,759.3 L628.9,758.4 L631.0,757.5 L633.0,756.6 L635.1,755.7 L637.2,754.7 L639.2,753.7 L641.2,752.6 L643.2,751.5 L645.1,750.4 L647.1,749.2 L649.0,748.0 L650.9,746.7 L652.8,745.4 L654.7,744.1 L656.6,742.8 L658.4,741.5 L660.3,740.1 L662.2,738.8 L664.1,737.5 L666.0,736.2 L667.9,734.9 L669.8,733.7 L671.7,732.5 L673.7,731.3 L675.7,730.1 L677.7,729.0 L679.7,727.9 L681.7,726.8 L683.7,725.8 L685.8,724.7 L687.8,723.7 L689.8,722.6 L691.9,721.6 L693.9,720.5 L695.9,719.5 L698.0,718.4 L700.0,717.4 L702.0,716.3 L704.0,715.2 L706.0,714.1 L707.9,712.9 L709.9,711.7 L711.8,710.6 L713.7,709.4 L715.6,708.2 L717.6,706.9 L719.5,705.7 L721.4,704.5 L723.3,703.3 L725.2,702.1 L727.2,700.9 L729.1,699.8 L731.1,698.6 L733.1,697.5 L735.1,696.5 L737.1,695.4 L739.2,694.4 L741.3,693.4 L743.3,692.5 L745.4,691.5 L747.5,690.6 L749.6,689.6 L751.8,688.7 L753.9,687.8 L756.0,686.9 L758.1,686.0 L760.2,685.1 L762.4,684.2 L764.5,683.3 L766.6,682.4 L768.7,681.5 L770.8,680.6 L772.9,679.6 L775.0,678.7 L777.0,677.7 L779.1,676.7 L781.1,675.6 L783.1,674.6 L785.1,673.5 L787.1,672.4 L789.0,671.2 L791.0,670.0 L792.8,668.8 L794.7,667.5 L796.5,666.1 L798.3,664.8 L800.1,663.3 L801.8,661.9 L803.5,660.4 L805.2,658.8 L806.8,657.2 L808.5,655.6 L810.1,654.0 L811.7,652.3 L813.2,650.6 L814.8,648.9 L816.4,647.2 L817.9,645.5 L819.4,643.8 L820.9,642.0 L822.4,640.3 L824.0,638.6 L825.5,636.8 L827.0,635.1 L828.5,633.4 L830.0,631.6 L831.5,629.9 L833.0,628.2 L834.5,626.5 L836.0,624.7 L837.5,623.0 L839.0,621.3 L840.5,619.6 L842.0,617.9 L843.5,616.2 L845.0,614.5 L846.5,612.8 L848.0,611.1 L849.5,609.4 L851.0,607.7 L852.5,606.0 L854.0,604.3 L855.5,602.6 L857.0,600.9 L858.5,599.2 L860.0,597.5 L861.6,595.8 L863.1,594.1 L864.6,592.4 L866.2,590.7 L867.7,589.0 L869.2,587.3 L870.8,585.6 L872.3,583.9 L873.9,582.2 L875.4,580.5 L877.0,578.8 L878.5,577.2 L880.1,575.5 L881.7,573.8 L883.2,572.1 L884.8,570.5 L886.4,568.8 L887.9,567.1 L889.5,565.5 L891.1,563.8 L892.6,562.2 L894.2,560.5 L895.8,558.9 L897.4,557.2 L898.9,555.6 L900.5,553.9 L902.1,552.2 L903.6,550.6 L905.2,548.9 L906.8,547.3 L908.4,545.6 L909.9,544.0 L911.5,542.3 L913.0,540.6 L914.6,539.0 L916.1,537.3 L917.7,535.6 L919.2,533.9 L920.8,532.2 L922.3,530.5 L923.8,528.8 L925.4,527.2 L926.9,525.5 L928.4,523.8 L930.0,522.1 L931.5,520.4 L933.0,518.7 L934.6,517.0 L936.1,515.3 L937.7,513.6 L939.2,511.9 L940.8,510.3 L942.3,508.6 L943.9,506.9 L945.5,505.3 L947.0,503.6 L948.6,502.0 L950.2,500.3 L951.8,498.7 L953.5,497.1 L955.1,495.5 L956.7,493.9 L958.4,492.3 L960.0,490.7 L961.7,489.1 L963.4,487.6 L965.1,486.1 L966.8,484.6 L968.5,483.1 L970.2,481.6 L972.0,480.1 L973.8,478.7 L975.6,477.3 L977.4,475.9 L979.2,474.6 L981.1,473.3 L983.0,472.0 L984.9,470.8 L986.8,469.6 L988.7,468.4 L990.7,467.2 L992.7,466.1 L994.7,465.0 L996.7,464.0 L998.8,463.0 L1000.8,462.0 L1002.9,461.0 L1004.9,460.0 L1007.0,459.1 L1009.1,458.1 L1011.2,457.2 L1013.4,456.3 L1015.5,455.5 L1017.6,454.6 L1019.8,453.7 L1021.9,452.9 L1024.0,452.0 L1026.2,451.2 L1028.3,450.3 L1030.5,449.5 L1032.6,448.7 L1034.7,447.8 L1036.9,447.0 L1039.0,446.1 L1041.1,445.3 L1043.2,444.4 L1045.3,443.5 L1047.4,442.6 L1049.5,441.7 L1051.6,440.7 L1053.6,439.7 L1055.6,438.7 L1057.6,437.7 L1059.6,436.6 L1061.6,435.5 L1063.6,434.4 L1065.5,433.2 L1067.4,432.0 L1069.3,430.7 L1071.1,429.4 L1073.0,428.0 L1074.8,426.7 L1076.6,425.2 L1078.4,423.8 L1080.1,422.3 L1081.9,420.8 L1083.6,419.3 L1085.3,417.8 L1087.0,416.2 L1088.6,414.6 L1090.2,413.0 L1091.9,411.4 L1093.4,409.7 L1095.0,408.0 L1096.6,406.4 L1098.2,404.7 L1099.7,403.0 L1101.3,401.4 L1102.8,399.7 L1104.4,398.1 L1106.0,396.5 L1107.6,394.8 L1109.3,393.3 L1110.9,391.7 L1112.6,390.2 L1114.4,388.7 L1116.1,387.2 L1117.9,385.8 L1119.6,384.3 L1121.4,382.9 L1123.2,381.5 L1125.0,380.0 L1126.8,378.6 L1128.6,377.2 L1130.4,375.8 L1132.2,374.4 L1134.0,372.9 L1135.7,371.5 L1137.5,370.0 L1139.2,368.5 L1140.9,367.1 L1142.6,365.5 L1144.3,364.0 L1145.9,362.4 L1147.5,360.8 L1149.1,359.2 L1150.6,357.5 L1152.1,355.8 L1153.6,354.0 L1155.0,352.2 L1156.3,350.4 L1157.6,348.5 L1158.9,346.6 L1160.2,344.7 L1161.5,342.8 L1162.9,340.9 L1164.2,339.0 L1165.6,337.2 L1166.9,335.4 L1168.3,333.6 L1169.8,331.8 L1171.2,330.0 L1172.6,328.2 L1174.1,326.5 L1175.6,324.8 L1177.1,323.1 L1178.7,321.4 L1180.2,319.7 L1181.8,318.0 L1183.4,316.4 L1185.0,314.8 L1186.7,313.2 L1188.3,311.6 L1190.0,310.1 L1191.7,308.6 L1193.4,307.0 L1195.1,305.5 L1196.9,304.0 L1198.6,302.5 L1200.3,301.0 L1202.0,299.5 L1203.7,298.0 L1205.4,296.5 L1207.1,294.9 L1208.7,293.3 L1210.3,291.7 L1211.8,290.0 L1213.3,288.3 L1214.8,286.5 L1216.2,284.8 L1217.7,283.0 L1219.1,281.2 L1220.5,279.4 L1221.9,277.6 L1223.3,275.8 L1224.7,274.0 L1226.1,272.2 L1227.6,270.4 L1229.0,268.6 L1230.5,266.9 L1232.0,265.2 L1233.6,263.5 L1235.2,261.9 L1236.8,260.3 L1238.5,258.7 L1240.1,257.2 L1241.8,255.6 L1243.5,254.1 L1245.3,252.6 L1247.0,251.1 L1248.7,249.7 L1250.5,248.2 L1252.3,246.8 L1254.0,245.3 L1255.8,243.9 L1257.6,242.5 L1259.4,241.1 L1261.2,239.7 L1263.0,238.3 L1264.9,236.9 L1266.7,235.5 L1268.5,234.2 L1270.4,232.8 L1272.2,231.5 L1274.0,230.1 L1275.9,228.7 L1277.7,227.4 L1279.6,226.0 L1281.4,224.7 L1283.3,223.3 L1285.1,222.0 L1287.0,220.6 L1288.8,219.3 L1290.6,217.9 L1292.5,216.5 L1294.3,215.2 L1296.1,213.8 L1297.9,212.4 L1299.8,211.1 L1301.6,209.7 L1303.5,208.4 L1305.3,207.1 L1307.2,205.8 L1309.1,204.5 L1311.0,203.2 L1312.9,202.0 L1314.9,200.8 L1316.8,199.7 L1318.8,198.5 L1320.7,197.3 L1322.7,196.2 L1324.7,195.0 L1326.6,193.8 L1328.6,192.6 L1330.5,191.4 L1332.4,190.2 L1334.3,188.9 L1336.2,187.7 L1338.1,186.4 L1340.0,185.1 L1342.0,183.9 L1343.9,182.7 L1345.8,181.5 L1347.8,180.4 L1349.8,179.2 L1351.8,178.1 L1353.8,177.0 L1355.8,176.0 L1357.9,174.9 L1359.9,173.9 L1362.0,173.0 L1364.0,172.0 L1366.1,171.1 L1368.2,170.2 L1370.3,169.3 L1372.4,168.4 L1374.5,167.5 L1376.7,166.7 L1378.8,165.8 L1380.9,165.0 L1383.0,164.2 L1385.2,163.4 L1387.3,162.5 L1389.4,161.7 L1391.6,160.9 L1393.7,160.1 L1395.9,159.3 L1398.0,158.5 L1400.2,157.8 L1402.3,157.0 L1404.5,156.2 L1406.7,155.5 L1408.8,154.8 L1411.0,154.0 L1413.2,153.3 L1415.3,152.6 L1417.5,151.9 L1419.7,151.2 L1421.9,150.5 L1424.1,149.9 L1426.3,149.2 L1428.5,148.6 L1430.7,147.9 L1432.8,147.3 L1435.1,146.7 L1437.3,146.1 L1439.5,145.5 L1441.7,145.0 L1443.9,144.4 L1446.1,143.9 L1448.3,143.3 L1450.6,142.8 L1452.8,142.3 L1455.0,141.9 L1457.3,141.4 L1459.5,141.0 L1461.7,140.5 L1464.0,140.1 L1466.2,139.7 L1468.5,139.3 L1470.7,139.0 L1473.0,138.6 L1475.2,138.3 L1477.5,138.0 L1479.8,137.6 L1482.0,137.3 L1484.3,137.1 L1486.6,136.8 L1488.8,136.5 L1491.1,136.3 L1493.4,136.0 L1495.7,135.8 L1497.9,135.5 L1500.2,135.3 L1502.5,135.1 L1504.8,134.9 L1507.0,134.7 L1509.3,134.5 L1511.6,134.3 L1513.9,134.1 L1516.2,133.9 L1518.4,133.8 L1520.7,133.6 L1523.0,133.4 L1525.3,133.3 L1527.6,133.1 L1529.8,132.9 L1532.1,132.8 L1534.4,132.6 L1536.7,132.4 L1539.0,132.3 L1541.2,132.1 L1543.5,131.9 L1545.8,131.8 L1548.1,131.6 L1550.3,131.5 L1552.6,131.3 L1554.9,131.1 L1557.2,131.0 L1559.4,130.8 L1561.7,130.7 L1564.0,130.5 L1566.3,130.4 L1568.6,130.2 L1570.8,130.0 L1573.1,129.9 L1575.4,129.7 L1577.7,129.6 L1580.0,129.4 L1582.2,129.3 L1584.5,129.1 L1586.8,129.0 L1589.1,128.8 L1591.4,128.7 L1593.6,128.6 L1595.9,128.4 L1598.2,128.3 L1600.5,128.2 L1602.8,128.1 L1605.1,127.9 L1607.3,127.8 L1609.6,127.7 L1611.9,127.6 L1614.2,127.5 L1616.5,127.4 L1618.8,127.4 L1621.0,127.3 L1623.3,127.2 L1625.6,127.1 L1627.9,127.1 L1630.2,127.0 L1632.5,127.0 L1634.8,127.0 L1637.0,127.0 L1639.3,127.0 L1641.6,127.0 L1643.9,127.0 L1646.2,127.1 L1648.5,127.2 L1650.7,127.2 L1653.0,127.3 L1655.3,127.4 L1657.6,127.6 L1659.9,127.7 L1662.1,127.9 L1664.4,128.1 L1666.7,128.3 L1668.9,128.6 L1671.2,128.8 L1673.5,129.1 L1675.8,129.3 L1678.0,129.6 L1680.3,129.9 L1682.6,130.1 L1684.8,130.4 L1687.1,130.6 L1689.4,130.8 L1691.7,131.0 L1693.9,131.2 L1696.2,131.4 L1698.5,131.6 L1700.8,131.7 L1703.1,131.9 L1705.3,132.0 L1707.6,132.1 L1709.9,132.3 L1712.2,132.4 L1714.5,132.5 L1716.7,132.6 L1719.0,132.7 L1721.3,132.7 L1723.6,132.8 L1725.9,132.9 L1728.2,133.0 L1730.5,133.0 L1732.7,133.1 L1735.0,133.2 L1737.3,133.2 L1739.6,133.3 L1741.9,133.3 L1744.2,133.4 L1746.4,133.5 L1748.7,133.5 L1751.0,133.6 L1753.3,133.6 L1755.6,133.7 L1757.9,133.7 L1760.2,133.7 L1762.4,133.8 L1764.7,133.8 L1767.0,133.8 L1769.3,133.9 L1771.6,133.9 L1773.9,133.9 L1776.1,133.9 L1778.4,133.9 L1780.7,133.9 L1783.0,133.9 L1785.3,133.9 L1787.6,133.9 L1789.8,133.9 L1792.1,133.9 L1794.4,133.9 L1796.7,133.8 L1799.0,133.8 L1801.3,133.8 L1803.5,133.7 L1805.8,133.7 L1808.1,133.6 L1810.4,133.5 L1812.7,133.4 L1814.9,133.4 L1817.2,133.3 L1819.5,133.2 L1821.8,133.1 L1824.1,132.9 L1826.4,132.8 L1828.6,132.7 L1830.9,132.6 L1833.2,132.4 L1835.5,132.2 L1837.8,132.1 L1840.0,131.9 L1842.3,131.7 L1844.6,131.6 L1846.9,131.4 L1849.2,131.2 L1851.5,131.1 L1853.7,130.9 L1856.0,130.7 L1858.3,130.6 L1860.6,130.4 L1862.9,130.3 L1865.1,130.2 L1867.4,130.1 L1869.7,130.0 L1872.0,129.9 L1874.3,129.8 L1876.6,129.8 L1878.8,129.8 L1881.1,129.8 L1883.4,129.8 L1885.7,129.8" fill="none" stroke="#9f4a6b" stroke-width="7" stroke-linecap="round" stroke-linejoin="round"/>
<g fill="#9f4a6b"><circle cx="90.0" cy="946.1" r="7.9"/><circle cx="162.4" cy="921.2" r="7.9"/><circle cx="253.1" cy="908.0" r="7.9"/><circle cx="343.7" cy="877.7" r="7.9"/><circle cx="434.8" cy="843.9" r="7.9"/><circle cx="525.2" cy="805.5" r="7.9"/><circle cx="616.1" cy="763.6" r="7.9"/><circle cx="706.8" cy="714.0" r="7.9"/><circle cx="797.2" cy="659.0" r="7.9"/><circle cx="888.1" cy="567.9" r="7.9"/><circle cx="979.2" cy="473.7" r="7.9"/><circle cx="1069.6" cy="429.8" r="7.9"/><circle cx="1160.4" cy="343.7" r="7.9"/><circle cx="1251.1" cy="248.0" r="7.9"/><circle cx="1341.6" cy="183.7" r="7.9"/><circle cx="1432.5" cy="147.6" r="7.9"/><circle cx="1523.0" cy="133.5" r="7.9"/><circle cx="1613.6" cy="127.7" r="7.9"/><circle cx="1704.5" cy="132.0" r="7.9"/><circle cx="1795.2" cy="133.9" r="7.9"/><circle cx="1885.7" cy="129.8" r="7.9"/></g>
<g fill="#bbbbbb" stroke="#bbbbbb" stroke-width="0.8" font-size="23.5"><text x="73.2" y="101.9" text-anchor="end">100%</text><text x="73.2" y="192.0" text-anchor="end">90%</text><text x="73.2" y="282.1" text-anchor="end">80%</text><text x="73.2" y="372.2" text-anchor="end">70%</text><text x="73.2" y="462.3" text-anchor="end">60%</text><text x="73.2" y="552.4" text-anchor="end">50%</text><text x="73.2" y="642.5" text-anchor="end">40%</text><text x="73.2" y="732.6" text-anchor="end">30%</text><text x="73.2" y="822.7" text-anchor="end">20%</text><text x="73.2" y="912.8" text-anchor="end">10%</text></g>
<g fill="#bbbbbb" stroke="#bbbbbb" stroke-width="0.8" font-size="24" letter-spacing="0.4"><text x="253.2" y="1022" text-anchor="middle">10th</text><text x="434.6" y="1022" text-anchor="middle">20th</text><text x="615.9" y="1022" text-anchor="middle">30th</text><text x="797.3" y="1022" text-anchor="middle">40th</text><text x="978.7" y="1022" text-anchor="middle">50th</text><text x="1160.0" y="1022" text-anchor="middle">60th</text><text x="1341.4" y="1022" text-anchor="middle">70th</text><text x="1522.8" y="1022" text-anchor="middle">80th</text><text x="1704.2" y="1022" text-anchor="middle">90th</text><text x="91" y="1022" text-anchor="middle">1st</text><text x="1886.5" y="1022" text-anchor="end">100th</text></g>
<text x="17" y="49" font-size="32" font-weight="bold" fill="#000" stroke="#000" stroke-width="0.6" textLength="616" lengthAdjust="spacingAndGlyphs">Percent of children who attended college</text>
<text x="788" y="1083" font-size="32" font-weight="bold" fill="#000" stroke="#000" stroke-width="0.6" textLength="401" lengthAdjust="spacingAndGlyphs">Parents’ income percentile</text>
<text x="89.8" y="1072" font-size="31" fill="#000" textLength="104.7" lengthAdjust="spacingAndGlyphs">Poorest</text>
<text x="1885.5" y="1072" font-size="31" fill="#000" text-anchor="end" textLength="101" lengthAdjust="spacingAndGlyphs">Richest</text>
<rect x="446" y="1234" width="514" height="88" rx="4" fill="#9f4a6b"/>
<rect x="972" y="1234" width="514" height="88" rx="4" fill="#aaaaaa"/>
<text x="703.5" y="1292" font-size="35" fill="#fff" stroke="#fff" stroke-width="0.4" text-anchor="middle">I’m done</text>
<text x="1230" y="1292" font-size="35" fill="#fff" stroke="#fff" stroke-width="0.4" text-anchor="middle" textLength="148.8" lengthAdjust="spacingAndGlyphs">Start over</text>
</svg>
</body></html>
